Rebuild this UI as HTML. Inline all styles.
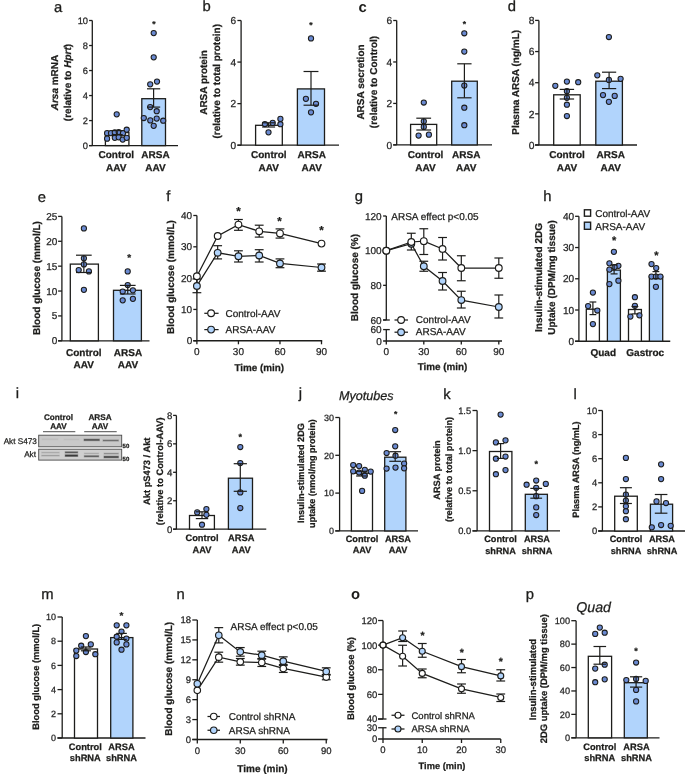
<!DOCTYPE html>
<html><head><meta charset="utf-8"><style>
html,body{margin:0;padding:0;background:#fff;}
svg{display:block;will-change:transform;}
text{font-family:"Liberation Sans",sans-serif;text-rendering:geometricPrecision;}
</style></head><body>
<svg width="685" height="774" viewBox="0 0 685 774">
<rect width="685" height="774" fill="#fff"/>
<text x="53.95" y="12" font-size="14.8" fill="#1d1d1b" stroke="#1d1d1b" stroke-width="0.3">a</text>
<line x1="92.3" y1="145.6" x2="92.3" y2="20.5" stroke="#1d1d1b" stroke-width="1.3"/>
<line x1="89.1" y1="145.6" x2="92.3" y2="145.6" stroke="#1d1d1b" stroke-width="1.3"/>
<text x="88" y="148.9" font-size="9.3" text-anchor="end" fill="#262626" stroke="#262626" stroke-width="0.25">0</text>
<line x1="89.1" y1="120.58" x2="92.3" y2="120.58" stroke="#1d1d1b" stroke-width="1.3"/>
<text x="88" y="123.88" font-size="9.3" text-anchor="end" fill="#262626" stroke="#262626" stroke-width="0.25">2</text>
<line x1="89.1" y1="95.56" x2="92.3" y2="95.56" stroke="#1d1d1b" stroke-width="1.3"/>
<text x="88" y="98.86" font-size="9.3" text-anchor="end" fill="#262626" stroke="#262626" stroke-width="0.25">4</text>
<line x1="89.1" y1="70.54" x2="92.3" y2="70.54" stroke="#1d1d1b" stroke-width="1.3"/>
<text x="88" y="73.84" font-size="9.3" text-anchor="end" fill="#262626" stroke="#262626" stroke-width="0.25">6</text>
<line x1="89.1" y1="45.52" x2="92.3" y2="45.52" stroke="#1d1d1b" stroke-width="1.3"/>
<text x="88" y="48.82" font-size="9.3" text-anchor="end" fill="#262626" stroke="#262626" stroke-width="0.25">8</text>
<line x1="89.1" y1="20.5" x2="92.3" y2="20.5" stroke="#1d1d1b" stroke-width="1.3"/>
<text x="88" y="23.8" font-size="9.3" text-anchor="end" fill="#262626" stroke="#262626" stroke-width="0.25">10</text>
<line x1="89.1" y1="145.6" x2="178" y2="145.6" stroke="#1d1d1b" stroke-width="1.3"/>
<rect x="105.4" y="132.6" width="23.5" height="13" fill="#fff" stroke="#1d1d1b" stroke-width="1.3"/>
<rect x="141.8" y="98.7" width="23.7" height="46.9" fill="#b1d4fc" stroke="#1d1d1b" stroke-width="1.3"/>
<circle cx="116.7" cy="114.3" r="2.6" fill="#6a8ad2" stroke="#1d1d1b" stroke-width="1.05"/>
<circle cx="107.1" cy="133.2" r="2.6" fill="#6a8ad2" stroke="#1d1d1b" stroke-width="1.05"/>
<circle cx="111" cy="133.2" r="2.6" fill="#6a8ad2" stroke="#1d1d1b" stroke-width="1.05"/>
<circle cx="114.8" cy="132.3" r="2.6" fill="#6a8ad2" stroke="#1d1d1b" stroke-width="1.05"/>
<circle cx="118.7" cy="132" r="2.6" fill="#6a8ad2" stroke="#1d1d1b" stroke-width="1.05"/>
<circle cx="123" cy="133.2" r="2.6" fill="#6a8ad2" stroke="#1d1d1b" stroke-width="1.05"/>
<circle cx="126.7" cy="129.7" r="2.6" fill="#6a8ad2" stroke="#1d1d1b" stroke-width="1.05"/>
<circle cx="107.1" cy="138.7" r="2.6" fill="#6a8ad2" stroke="#1d1d1b" stroke-width="1.05"/>
<circle cx="114.8" cy="137.8" r="2.6" fill="#6a8ad2" stroke="#1d1d1b" stroke-width="1.05"/>
<circle cx="118.7" cy="137.3" r="2.6" fill="#6a8ad2" stroke="#1d1d1b" stroke-width="1.05"/>
<circle cx="122.7" cy="139.6" r="2.6" fill="#6a8ad2" stroke="#1d1d1b" stroke-width="1.05"/>
<circle cx="126.7" cy="137.8" r="2.6" fill="#6a8ad2" stroke="#1d1d1b" stroke-width="1.05"/>
<circle cx="153.7" cy="33.1" r="2.6" fill="#6a8ad2" stroke="#1d1d1b" stroke-width="1.05"/>
<circle cx="153.7" cy="57.3" r="2.6" fill="#6a8ad2" stroke="#1d1d1b" stroke-width="1.05"/>
<circle cx="150.2" cy="84.3" r="2.6" fill="#6a8ad2" stroke="#1d1d1b" stroke-width="1.05"/>
<circle cx="157" cy="81.6" r="2.6" fill="#6a8ad2" stroke="#1d1d1b" stroke-width="1.05"/>
<circle cx="150.2" cy="107.1" r="2.6" fill="#6a8ad2" stroke="#1d1d1b" stroke-width="1.05"/>
<circle cx="156.7" cy="111.2" r="2.6" fill="#6a8ad2" stroke="#1d1d1b" stroke-width="1.05"/>
<circle cx="143.8" cy="118" r="2.6" fill="#6a8ad2" stroke="#1d1d1b" stroke-width="1.05"/>
<circle cx="150.3" cy="120.4" r="2.6" fill="#6a8ad2" stroke="#1d1d1b" stroke-width="1.05"/>
<circle cx="156.7" cy="118.6" r="2.6" fill="#6a8ad2" stroke="#1d1d1b" stroke-width="1.05"/>
<circle cx="163.2" cy="120.7" r="2.6" fill="#6a8ad2" stroke="#1d1d1b" stroke-width="1.05"/>
<circle cx="153.7" cy="125.8" r="2.6" fill="#6a8ad2" stroke="#1d1d1b" stroke-width="1.05"/>
<line x1="117.2" y1="130.6" x2="117.2" y2="134.6" stroke="#1d1d1b" stroke-width="1.2"/>
<line x1="111.7" y1="130.6" x2="122.7" y2="130.6" stroke="#1d1d1b" stroke-width="1.2"/>
<line x1="111.7" y1="134.6" x2="122.7" y2="134.6" stroke="#1d1d1b" stroke-width="1.2"/>
<line x1="153.6" y1="88.8" x2="153.6" y2="107.1" stroke="#1d1d1b" stroke-width="1.2"/>
<line x1="147" y1="88.8" x2="160.2" y2="88.8" stroke="#1d1d1b" stroke-width="1.2"/>
<line x1="147" y1="107.1" x2="160.2" y2="107.1" stroke="#1d1d1b" stroke-width="1.2"/>
<text x="154" y="26.69" font-size="8.5" text-anchor="middle" font-weight="bold" fill="#1d1d1b" stroke="#1d1d1b" stroke-width="0.25">*</text>
<text x="116.25" y="158.4" font-size="10" text-anchor="middle" font-weight="bold" fill="#1d1d1b" stroke="#1d1d1b" stroke-width="0.25">Control</text>
<text x="116.25" y="170.8" font-size="10" text-anchor="middle" font-weight="bold" fill="#1d1d1b" stroke="#1d1d1b" stroke-width="0.25">AAV</text>
<text x="155.5" y="158.4" font-size="10" text-anchor="middle" font-weight="bold" fill="#1d1d1b" stroke="#1d1d1b" stroke-width="0.25">ARSA</text>
<text x="155.5" y="170.8" font-size="10" text-anchor="middle" font-weight="bold" fill="#1d1d1b" stroke="#1d1d1b" stroke-width="0.25">AAV</text>
<text x="58" y="82.5" font-size="10" text-anchor="middle" font-weight="bold" fill="#1d1d1b" stroke="#1d1d1b" stroke-width="0.25" transform="rotate(-90 58 82.5)"><tspan font-style="italic">Arsa</tspan> mRNA</text>
<text x="70.5" y="82.5" font-size="10" text-anchor="middle" font-weight="bold" fill="#1d1d1b" stroke="#1d1d1b" stroke-width="0.25" transform="rotate(-90 70.5 82.5)">(relative to <tspan font-style="italic">Hprt</tspan>)</text>
<text x="202.5" y="11.3" font-size="14.8" fill="#1d1d1b" stroke="#1d1d1b" stroke-width="0.3">b</text>
<line x1="241.1" y1="145.2" x2="241.1" y2="20.5" stroke="#1d1d1b" stroke-width="1.3"/>
<line x1="237.4" y1="145.2" x2="241.1" y2="145.2" stroke="#1d1d1b" stroke-width="1.3"/>
<text x="236.1" y="148.79" font-size="10.1" text-anchor="end" fill="#262626" stroke="#262626" stroke-width="0.25">0</text>
<line x1="237.4" y1="103.63" x2="241.1" y2="103.63" stroke="#1d1d1b" stroke-width="1.3"/>
<text x="236.1" y="107.22" font-size="10.1" text-anchor="end" fill="#262626" stroke="#262626" stroke-width="0.25">2</text>
<line x1="237.4" y1="62.07" x2="241.1" y2="62.07" stroke="#1d1d1b" stroke-width="1.3"/>
<text x="236.1" y="65.65" font-size="10.1" text-anchor="end" fill="#262626" stroke="#262626" stroke-width="0.25">4</text>
<line x1="237.4" y1="20.5" x2="241.1" y2="20.5" stroke="#1d1d1b" stroke-width="1.3"/>
<text x="236.1" y="24.09" font-size="10.1" text-anchor="end" fill="#262626" stroke="#262626" stroke-width="0.25">6</text>
<line x1="237.4" y1="145.2" x2="339" y2="145.2" stroke="#1d1d1b" stroke-width="1.3"/>
<rect x="255.6" y="125.3" width="26.7" height="19.9" fill="#fff" stroke="#1d1d1b" stroke-width="1.3"/>
<rect x="297.4" y="88.9" width="27.1" height="56.3" fill="#b1d4fc" stroke="#1d1d1b" stroke-width="1.3"/>
<circle cx="264.9" cy="124" r="2.6" fill="#6a8ad2" stroke="#1d1d1b" stroke-width="1.05"/>
<circle cx="272.7" cy="122.9" r="2.6" fill="#6a8ad2" stroke="#1d1d1b" stroke-width="1.05"/>
<circle cx="280.4" cy="118.9" r="2.6" fill="#6a8ad2" stroke="#1d1d1b" stroke-width="1.05"/>
<circle cx="280.4" cy="124.2" r="2.6" fill="#6a8ad2" stroke="#1d1d1b" stroke-width="1.05"/>
<circle cx="268.5" cy="132.3" r="2.6" fill="#6a8ad2" stroke="#1d1d1b" stroke-width="1.05"/>
<circle cx="311" cy="38.4" r="2.6" fill="#6a8ad2" stroke="#1d1d1b" stroke-width="1.05"/>
<circle cx="305.9" cy="98.8" r="2.6" fill="#6a8ad2" stroke="#1d1d1b" stroke-width="1.05"/>
<circle cx="316" cy="103.8" r="2.6" fill="#6a8ad2" stroke="#1d1d1b" stroke-width="1.05"/>
<circle cx="311" cy="112.3" r="2.6" fill="#6a8ad2" stroke="#1d1d1b" stroke-width="1.05"/>
<line x1="268.6" y1="122.8" x2="268.6" y2="127" stroke="#1d1d1b" stroke-width="1.2"/>
<line x1="262.1" y1="122.8" x2="275.1" y2="122.8" stroke="#1d1d1b" stroke-width="1.2"/>
<line x1="262.1" y1="127" x2="275.1" y2="127" stroke="#1d1d1b" stroke-width="1.2"/>
<line x1="311" y1="71.5" x2="311" y2="105.2" stroke="#1d1d1b" stroke-width="1.2"/>
<line x1="303.55" y1="71.5" x2="318.45" y2="71.5" stroke="#1d1d1b" stroke-width="1.2"/>
<line x1="303.55" y1="105.2" x2="318.45" y2="105.2" stroke="#1d1d1b" stroke-width="1.2"/>
<text x="311" y="27.79" font-size="8.5" text-anchor="middle" font-weight="bold" fill="#1d1d1b" stroke="#1d1d1b" stroke-width="0.25">*</text>
<text x="268.75" y="158.4" font-size="10" text-anchor="middle" font-weight="bold" fill="#1d1d1b" stroke="#1d1d1b" stroke-width="0.25">Control</text>
<text x="268.75" y="170.8" font-size="10" text-anchor="middle" font-weight="bold" fill="#1d1d1b" stroke="#1d1d1b" stroke-width="0.25">AAV</text>
<text x="311.75" y="158.4" font-size="10" text-anchor="middle" font-weight="bold" fill="#1d1d1b" stroke="#1d1d1b" stroke-width="0.25">ARSA</text>
<text x="311.75" y="170.8" font-size="10" text-anchor="middle" font-weight="bold" fill="#1d1d1b" stroke="#1d1d1b" stroke-width="0.25">AAV</text>
<text x="207.2" y="82.5" font-size="10" text-anchor="middle" font-weight="bold" fill="#1d1d1b" stroke="#1d1d1b" stroke-width="0.25" transform="rotate(-90 207.2 82.5)">ARSA protein</text>
<text x="219.9" y="81.25" font-size="10" text-anchor="middle" font-weight="bold" fill="#1d1d1b" stroke="#1d1d1b" stroke-width="0.25" transform="rotate(-90 219.9 81.25)">(relative to total protein)</text>
<text x="358.6" y="12" font-size="14.8" font-weight="bold" fill="#1d1d1b" stroke-width="0">c</text>
<line x1="396.7" y1="144.9" x2="396.7" y2="20.5" stroke="#1d1d1b" stroke-width="1.3"/>
<line x1="393.2" y1="144.9" x2="396.7" y2="144.9" stroke="#1d1d1b" stroke-width="1.3"/>
<text x="392.1" y="148.52" font-size="10.2" text-anchor="end" fill="#262626" stroke="#262626" stroke-width="0.25">0</text>
<line x1="393.2" y1="103.43" x2="396.7" y2="103.43" stroke="#1d1d1b" stroke-width="1.3"/>
<text x="392.1" y="107.05" font-size="10.2" text-anchor="end" fill="#262626" stroke="#262626" stroke-width="0.25">2</text>
<line x1="393.2" y1="61.97" x2="396.7" y2="61.97" stroke="#1d1d1b" stroke-width="1.3"/>
<text x="392.1" y="65.59" font-size="10.2" text-anchor="end" fill="#262626" stroke="#262626" stroke-width="0.25">4</text>
<line x1="393.2" y1="20.5" x2="396.7" y2="20.5" stroke="#1d1d1b" stroke-width="1.3"/>
<text x="392.1" y="24.12" font-size="10.2" text-anchor="end" fill="#262626" stroke="#262626" stroke-width="0.25">6</text>
<line x1="393.2" y1="144.9" x2="492" y2="144.9" stroke="#1d1d1b" stroke-width="1.3"/>
<rect x="410.6" y="124.4" width="26.1" height="20.5" fill="#fff" stroke="#1d1d1b" stroke-width="1.3"/>
<rect x="451.7" y="81.2" width="25.6" height="63.7" fill="#b1d4fc" stroke="#1d1d1b" stroke-width="1.3"/>
<circle cx="423.8" cy="102.5" r="2.6" fill="#6a8ad2" stroke="#1d1d1b" stroke-width="1.05"/>
<circle cx="423.8" cy="121.3" r="2.6" fill="#6a8ad2" stroke="#1d1d1b" stroke-width="1.05"/>
<circle cx="423.8" cy="126.9" r="2.6" fill="#6a8ad2" stroke="#1d1d1b" stroke-width="1.05"/>
<circle cx="418.6" cy="135.6" r="2.6" fill="#6a8ad2" stroke="#1d1d1b" stroke-width="1.05"/>
<circle cx="428.9" cy="134.7" r="2.6" fill="#6a8ad2" stroke="#1d1d1b" stroke-width="1.05"/>
<circle cx="464.3" cy="33.3" r="2.6" fill="#6a8ad2" stroke="#1d1d1b" stroke-width="1.05"/>
<circle cx="464.3" cy="51.6" r="2.6" fill="#6a8ad2" stroke="#1d1d1b" stroke-width="1.05"/>
<circle cx="464.3" cy="85.6" r="2.6" fill="#6a8ad2" stroke="#1d1d1b" stroke-width="1.05"/>
<circle cx="464.3" cy="107.7" r="2.6" fill="#6a8ad2" stroke="#1d1d1b" stroke-width="1.05"/>
<circle cx="464.3" cy="125.2" r="2.6" fill="#6a8ad2" stroke="#1d1d1b" stroke-width="1.05"/>
<line x1="423.7" y1="118.2" x2="423.7" y2="130" stroke="#1d1d1b" stroke-width="1.2"/>
<line x1="416.3" y1="118.2" x2="431.1" y2="118.2" stroke="#1d1d1b" stroke-width="1.2"/>
<line x1="416.3" y1="130" x2="431.1" y2="130" stroke="#1d1d1b" stroke-width="1.2"/>
<line x1="464.4" y1="63.8" x2="464.4" y2="97.8" stroke="#1d1d1b" stroke-width="1.2"/>
<line x1="457.25" y1="63.8" x2="471.55" y2="63.8" stroke="#1d1d1b" stroke-width="1.2"/>
<line x1="457.25" y1="97.8" x2="471.55" y2="97.8" stroke="#1d1d1b" stroke-width="1.2"/>
<text x="464.3" y="26.59" font-size="8.5" text-anchor="middle" font-weight="bold" fill="#1d1d1b" stroke="#1d1d1b" stroke-width="0.25">*</text>
<text x="425.5" y="158.4" font-size="10" text-anchor="middle" font-weight="bold" fill="#1d1d1b" stroke="#1d1d1b" stroke-width="0.25">Control</text>
<text x="425.5" y="170.8" font-size="10" text-anchor="middle" font-weight="bold" fill="#1d1d1b" stroke="#1d1d1b" stroke-width="0.25">AAV</text>
<text x="466.25" y="158.4" font-size="10" text-anchor="middle" font-weight="bold" fill="#1d1d1b" stroke="#1d1d1b" stroke-width="0.25">ARSA</text>
<text x="466.25" y="170.8" font-size="10" text-anchor="middle" font-weight="bold" fill="#1d1d1b" stroke="#1d1d1b" stroke-width="0.25">AAV</text>
<text x="363.5" y="82" font-size="10" text-anchor="middle" font-weight="bold" fill="#1d1d1b" stroke="#1d1d1b" stroke-width="0.25" transform="rotate(-90 363.5 82)">ARSA secretion</text>
<text x="376.75" y="82" font-size="10" text-anchor="middle" font-weight="bold" fill="#1d1d1b" stroke="#1d1d1b" stroke-width="0.25" transform="rotate(-90 376.75 82)">(relative to Control)</text>
<text x="507.8" y="11.3" font-size="14.8" fill="#1d1d1b" stroke="#1d1d1b" stroke-width="0.3">d</text>
<line x1="538.9" y1="145" x2="538.9" y2="20.4" stroke="#1d1d1b" stroke-width="1.3"/>
<line x1="535.1" y1="145" x2="538.9" y2="145" stroke="#1d1d1b" stroke-width="1.3"/>
<text x="534.4" y="148.66" font-size="10.3" text-anchor="end" fill="#262626" stroke="#262626" stroke-width="0.25">0</text>
<line x1="535.1" y1="113.85" x2="538.9" y2="113.85" stroke="#1d1d1b" stroke-width="1.3"/>
<text x="534.4" y="117.51" font-size="10.3" text-anchor="end" fill="#262626" stroke="#262626" stroke-width="0.25">2</text>
<line x1="535.1" y1="82.7" x2="538.9" y2="82.7" stroke="#1d1d1b" stroke-width="1.3"/>
<text x="534.4" y="86.36" font-size="10.3" text-anchor="end" fill="#262626" stroke="#262626" stroke-width="0.25">4</text>
<line x1="535.1" y1="51.55" x2="538.9" y2="51.55" stroke="#1d1d1b" stroke-width="1.3"/>
<text x="534.4" y="55.21" font-size="10.3" text-anchor="end" fill="#262626" stroke="#262626" stroke-width="0.25">6</text>
<line x1="535.1" y1="20.4" x2="538.9" y2="20.4" stroke="#1d1d1b" stroke-width="1.3"/>
<text x="534.4" y="24.06" font-size="10.3" text-anchor="end" fill="#262626" stroke="#262626" stroke-width="0.25">8</text>
<line x1="535.1" y1="145" x2="637" y2="145" stroke="#1d1d1b" stroke-width="1.3"/>
<rect x="553.7" y="94.8" width="26.5" height="50.2" fill="#fff" stroke="#1d1d1b" stroke-width="1.3"/>
<rect x="595.8" y="81.2" width="26.6" height="63.8" fill="#b1d4fc" stroke="#1d1d1b" stroke-width="1.3"/>
<circle cx="555.3" cy="85.8" r="2.6" fill="#6a8ad2" stroke="#1d1d1b" stroke-width="1.05"/>
<circle cx="566.9" cy="81.6" r="2.6" fill="#6a8ad2" stroke="#1d1d1b" stroke-width="1.05"/>
<circle cx="578.2" cy="82.2" r="2.6" fill="#6a8ad2" stroke="#1d1d1b" stroke-width="1.05"/>
<circle cx="566.9" cy="91.2" r="2.6" fill="#6a8ad2" stroke="#1d1d1b" stroke-width="1.05"/>
<circle cx="566.9" cy="97.8" r="2.6" fill="#6a8ad2" stroke="#1d1d1b" stroke-width="1.05"/>
<circle cx="566.9" cy="104.7" r="2.6" fill="#6a8ad2" stroke="#1d1d1b" stroke-width="1.05"/>
<circle cx="566.9" cy="116" r="2.6" fill="#6a8ad2" stroke="#1d1d1b" stroke-width="1.05"/>
<circle cx="608.9" cy="37" r="2.6" fill="#6a8ad2" stroke="#1d1d1b" stroke-width="1.05"/>
<circle cx="597.3" cy="75.3" r="2.6" fill="#6a8ad2" stroke="#1d1d1b" stroke-width="1.05"/>
<circle cx="608.9" cy="79.9" r="2.6" fill="#6a8ad2" stroke="#1d1d1b" stroke-width="1.05"/>
<circle cx="620.6" cy="78.8" r="2.6" fill="#6a8ad2" stroke="#1d1d1b" stroke-width="1.05"/>
<circle cx="603" cy="95.1" r="2.6" fill="#6a8ad2" stroke="#1d1d1b" stroke-width="1.05"/>
<circle cx="614.7" cy="95.9" r="2.6" fill="#6a8ad2" stroke="#1d1d1b" stroke-width="1.05"/>
<circle cx="608.9" cy="101.8" r="2.6" fill="#6a8ad2" stroke="#1d1d1b" stroke-width="1.05"/>
<line x1="566.9" y1="89.4" x2="566.9" y2="99" stroke="#1d1d1b" stroke-width="1.2"/>
<line x1="559.7" y1="89.4" x2="574.1" y2="89.4" stroke="#1d1d1b" stroke-width="1.2"/>
<line x1="559.7" y1="99" x2="574.1" y2="99" stroke="#1d1d1b" stroke-width="1.2"/>
<line x1="609.1" y1="72.2" x2="609.1" y2="88.6" stroke="#1d1d1b" stroke-width="1.2"/>
<line x1="602" y1="72.2" x2="616.2" y2="72.2" stroke="#1d1d1b" stroke-width="1.2"/>
<line x1="602" y1="88.6" x2="616.2" y2="88.6" stroke="#1d1d1b" stroke-width="1.2"/>
<text x="567" y="158.4" font-size="10" text-anchor="middle" font-weight="bold" fill="#1d1d1b" stroke="#1d1d1b" stroke-width="0.25">Control</text>
<text x="567" y="170.8" font-size="10" text-anchor="middle" font-weight="bold" fill="#1d1d1b" stroke="#1d1d1b" stroke-width="0.25">AAV</text>
<text x="610.75" y="158.4" font-size="10" text-anchor="middle" font-weight="bold" fill="#1d1d1b" stroke="#1d1d1b" stroke-width="0.25">ARSA</text>
<text x="610.75" y="170.8" font-size="10" text-anchor="middle" font-weight="bold" fill="#1d1d1b" stroke="#1d1d1b" stroke-width="0.25">AAV</text>
<text x="518.5" y="82.25" font-size="10" text-anchor="middle" font-weight="bold" fill="#1d1d1b" stroke="#1d1d1b" stroke-width="0.25" transform="rotate(-90 518.5 82.25)">Plasma ARSA (ng/mL)</text>
<text x="37.65" y="202.4" font-size="14.8" fill="#1d1d1b" stroke="#1d1d1b" stroke-width="0.3">e</text>
<line x1="61.9" y1="340.8" x2="61.9" y2="216.4" stroke="#1d1d1b" stroke-width="1.3"/>
<line x1="58.1" y1="340.8" x2="61.9" y2="340.8" stroke="#1d1d1b" stroke-width="1.3"/>
<text x="57.3" y="344.35" font-size="10" text-anchor="end" fill="#262626" stroke="#262626" stroke-width="0.25">0</text>
<line x1="58.1" y1="315.92" x2="61.9" y2="315.92" stroke="#1d1d1b" stroke-width="1.3"/>
<text x="57.3" y="319.47" font-size="10" text-anchor="end" fill="#262626" stroke="#262626" stroke-width="0.25">5</text>
<line x1="58.1" y1="291.04" x2="61.9" y2="291.04" stroke="#1d1d1b" stroke-width="1.3"/>
<text x="57.3" y="294.59" font-size="10" text-anchor="end" fill="#262626" stroke="#262626" stroke-width="0.25">10</text>
<line x1="58.1" y1="266.16" x2="61.9" y2="266.16" stroke="#1d1d1b" stroke-width="1.3"/>
<text x="57.3" y="269.71" font-size="10" text-anchor="end" fill="#262626" stroke="#262626" stroke-width="0.25">15</text>
<line x1="58.1" y1="241.28" x2="61.9" y2="241.28" stroke="#1d1d1b" stroke-width="1.3"/>
<text x="57.3" y="244.83" font-size="10" text-anchor="end" fill="#262626" stroke="#262626" stroke-width="0.25">20</text>
<line x1="58.1" y1="216.4" x2="61.9" y2="216.4" stroke="#1d1d1b" stroke-width="1.3"/>
<text x="57.3" y="219.95" font-size="10" text-anchor="end" fill="#262626" stroke="#262626" stroke-width="0.25">25</text>
<line x1="58.1" y1="340.8" x2="149.5" y2="340.8" stroke="#1d1d1b" stroke-width="1.3"/>
<rect x="70.3" y="264.1" width="28.1" height="76.7" fill="#fff" stroke="#1d1d1b" stroke-width="1.3"/>
<rect x="113.5" y="290.3" width="27.9" height="50.5" fill="#b1d4fc" stroke="#1d1d1b" stroke-width="1.3"/>
<circle cx="83.9" cy="228.4" r="2.6" fill="#6a8ad2" stroke="#1d1d1b" stroke-width="1.05"/>
<circle cx="83.9" cy="258.3" r="2.6" fill="#6a8ad2" stroke="#1d1d1b" stroke-width="1.05"/>
<circle cx="83.9" cy="264.4" r="2.6" fill="#6a8ad2" stroke="#1d1d1b" stroke-width="1.05"/>
<circle cx="78.7" cy="270.1" r="2.6" fill="#6a8ad2" stroke="#1d1d1b" stroke-width="1.05"/>
<circle cx="88.9" cy="271.4" r="2.6" fill="#6a8ad2" stroke="#1d1d1b" stroke-width="1.05"/>
<circle cx="83.9" cy="289.8" r="2.6" fill="#6a8ad2" stroke="#1d1d1b" stroke-width="1.05"/>
<circle cx="127.7" cy="271.4" r="2.6" fill="#6a8ad2" stroke="#1d1d1b" stroke-width="1.05"/>
<circle cx="127.7" cy="285.1" r="2.6" fill="#6a8ad2" stroke="#1d1d1b" stroke-width="1.05"/>
<circle cx="122.7" cy="291.6" r="2.6" fill="#6a8ad2" stroke="#1d1d1b" stroke-width="1.05"/>
<circle cx="132.9" cy="290.3" r="2.6" fill="#6a8ad2" stroke="#1d1d1b" stroke-width="1.05"/>
<circle cx="122.7" cy="300.3" r="2.6" fill="#6a8ad2" stroke="#1d1d1b" stroke-width="1.05"/>
<circle cx="132.9" cy="298.8" r="2.6" fill="#6a8ad2" stroke="#1d1d1b" stroke-width="1.05"/>
<line x1="83.85" y1="255.2" x2="83.85" y2="272.5" stroke="#1d1d1b" stroke-width="1.2"/>
<line x1="76" y1="255.2" x2="91.7" y2="255.2" stroke="#1d1d1b" stroke-width="1.2"/>
<line x1="76" y1="272.5" x2="91.7" y2="272.5" stroke="#1d1d1b" stroke-width="1.2"/>
<line x1="127.75" y1="285.4" x2="127.75" y2="294" stroke="#1d1d1b" stroke-width="1.2"/>
<line x1="119.9" y1="285.4" x2="135.6" y2="285.4" stroke="#1d1d1b" stroke-width="1.2"/>
<line x1="119.9" y1="294" x2="135.6" y2="294" stroke="#1d1d1b" stroke-width="1.2"/>
<text x="129.3" y="260.95" font-size="10" text-anchor="middle" font-weight="bold" fill="#1d1d1b" stroke="#1d1d1b" stroke-width="0.25">*</text>
<text x="83.75" y="355.5" font-size="10" text-anchor="middle" font-weight="bold" fill="#1d1d1b" stroke="#1d1d1b" stroke-width="0.25">Control</text>
<text x="83.75" y="368.1" font-size="10" text-anchor="middle" font-weight="bold" fill="#1d1d1b" stroke="#1d1d1b" stroke-width="0.25">AAV</text>
<text x="128" y="355.5" font-size="10" text-anchor="middle" font-weight="bold" fill="#1d1d1b" stroke="#1d1d1b" stroke-width="0.25">ARSA</text>
<text x="128" y="368.1" font-size="10" text-anchor="middle" font-weight="bold" fill="#1d1d1b" stroke="#1d1d1b" stroke-width="0.25">AAV</text>
<text x="40" y="278" font-size="10" text-anchor="middle" font-weight="bold" fill="#1d1d1b" stroke="#1d1d1b" stroke-width="0.25" transform="rotate(-90 40 278)">Blood glucose (mmol/L)</text>
<text x="166.3" y="200.7" font-size="14.8" fill="#1d1d1b" stroke="#1d1d1b" stroke-width="0.3">f</text>
<line x1="196.9" y1="340.75" x2="196.9" y2="215.5" stroke="#1d1d1b" stroke-width="1.3"/>
<line x1="193.3" y1="340.75" x2="196.9" y2="340.75" stroke="#1d1d1b" stroke-width="1.3"/>
<text x="192.2" y="344.3" font-size="10" text-anchor="end" fill="#262626" stroke="#262626" stroke-width="0.25">0</text>
<line x1="193.3" y1="309.44" x2="196.9" y2="309.44" stroke="#1d1d1b" stroke-width="1.3"/>
<text x="192.2" y="312.99" font-size="10" text-anchor="end" fill="#262626" stroke="#262626" stroke-width="0.25">10</text>
<line x1="193.3" y1="278.12" x2="196.9" y2="278.12" stroke="#1d1d1b" stroke-width="1.3"/>
<text x="192.2" y="281.68" font-size="10" text-anchor="end" fill="#262626" stroke="#262626" stroke-width="0.25">20</text>
<line x1="193.3" y1="246.81" x2="196.9" y2="246.81" stroke="#1d1d1b" stroke-width="1.3"/>
<text x="192.2" y="250.36" font-size="10" text-anchor="end" fill="#262626" stroke="#262626" stroke-width="0.25">30</text>
<line x1="193.3" y1="215.5" x2="196.9" y2="215.5" stroke="#1d1d1b" stroke-width="1.3"/>
<text x="192.2" y="219.05" font-size="10" text-anchor="end" fill="#262626" stroke="#262626" stroke-width="0.25">40</text>
<line x1="193.3" y1="340.75" x2="322.2" y2="340.75" stroke="#1d1d1b" stroke-width="1.3"/>
<line x1="196.9" y1="340.75" x2="196.9" y2="344.3" stroke="#1d1d1b" stroke-width="1.3"/>
<text x="196.9" y="354.6" font-size="10" text-anchor="middle" fill="#262626" stroke="#262626" stroke-width="0.25">0</text>
<line x1="238.43" y1="340.75" x2="238.43" y2="344.3" stroke="#1d1d1b" stroke-width="1.3"/>
<text x="238.43" y="354.6" font-size="10" text-anchor="middle" fill="#262626" stroke="#262626" stroke-width="0.25">30</text>
<line x1="279.97" y1="340.75" x2="279.97" y2="344.3" stroke="#1d1d1b" stroke-width="1.3"/>
<text x="279.97" y="354.6" font-size="10" text-anchor="middle" fill="#262626" stroke="#262626" stroke-width="0.25">60</text>
<line x1="321.5" y1="340.75" x2="321.5" y2="344.3" stroke="#1d1d1b" stroke-width="1.3"/>
<text x="321.5" y="354.6" font-size="10" text-anchor="middle" fill="#262626" stroke="#262626" stroke-width="0.25">90</text>
<text x="259.25" y="371" font-size="9.9" text-anchor="middle" font-weight="bold" fill="#1d1d1b" stroke="#1d1d1b" stroke-width="0.25">Time (min)</text>
<text x="174.25" y="277" font-size="10" text-anchor="middle" font-weight="bold" fill="#1d1d1b" stroke="#1d1d1b" stroke-width="0.25" transform="rotate(-90 174.25 277)">Blood glucose (mmol/L)</text>
<polyline points="196.9,276.3 217.67,236 238.43,224.6 259.2,231.3 279.97,233.4 321.5,243.6" fill="none" stroke="#1d1d1b" stroke-width="1.25"/>
<polyline points="196.9,285.9 217.67,252.8 238.43,256.3 259.2,255.5 279.97,263.4 321.5,267.5" fill="none" stroke="#1d1d1b" stroke-width="1.25"/>
<line x1="238.43" y1="219.5" x2="238.43" y2="230.3" stroke="#1d1d1b" stroke-width="1.2"/>
<line x1="234.03" y1="219.5" x2="242.83" y2="219.5" stroke="#1d1d1b" stroke-width="1.2"/>
<line x1="234.03" y1="230.3" x2="242.83" y2="230.3" stroke="#1d1d1b" stroke-width="1.2"/>
<line x1="259.2" y1="225.2" x2="259.2" y2="237.1" stroke="#1d1d1b" stroke-width="1.2"/>
<line x1="254.8" y1="225.2" x2="263.6" y2="225.2" stroke="#1d1d1b" stroke-width="1.2"/>
<line x1="254.8" y1="237.1" x2="263.6" y2="237.1" stroke="#1d1d1b" stroke-width="1.2"/>
<line x1="279.97" y1="228.9" x2="279.97" y2="238.1" stroke="#1d1d1b" stroke-width="1.2"/>
<line x1="275.57" y1="228.9" x2="284.37" y2="228.9" stroke="#1d1d1b" stroke-width="1.2"/>
<line x1="275.57" y1="238.1" x2="284.37" y2="238.1" stroke="#1d1d1b" stroke-width="1.2"/>
<line x1="217.67" y1="245.7" x2="217.67" y2="258.9" stroke="#1d1d1b" stroke-width="1.2"/>
<line x1="213.27" y1="245.7" x2="222.07" y2="245.7" stroke="#1d1d1b" stroke-width="1.2"/>
<line x1="213.27" y1="258.9" x2="222.07" y2="258.9" stroke="#1d1d1b" stroke-width="1.2"/>
<line x1="238.43" y1="250.8" x2="238.43" y2="262" stroke="#1d1d1b" stroke-width="1.2"/>
<line x1="234.03" y1="250.8" x2="242.83" y2="250.8" stroke="#1d1d1b" stroke-width="1.2"/>
<line x1="234.03" y1="262" x2="242.83" y2="262" stroke="#1d1d1b" stroke-width="1.2"/>
<line x1="259.2" y1="249.7" x2="259.2" y2="262" stroke="#1d1d1b" stroke-width="1.2"/>
<line x1="254.8" y1="249.7" x2="263.6" y2="249.7" stroke="#1d1d1b" stroke-width="1.2"/>
<line x1="254.8" y1="262" x2="263.6" y2="262" stroke="#1d1d1b" stroke-width="1.2"/>
<line x1="279.97" y1="258.9" x2="279.97" y2="267.7" stroke="#1d1d1b" stroke-width="1.2"/>
<line x1="275.57" y1="258.9" x2="284.37" y2="258.9" stroke="#1d1d1b" stroke-width="1.2"/>
<line x1="275.57" y1="267.7" x2="284.37" y2="267.7" stroke="#1d1d1b" stroke-width="1.2"/>
<line x1="321.5" y1="264" x2="321.5" y2="271.2" stroke="#1d1d1b" stroke-width="1.2"/>
<line x1="317.1" y1="264" x2="325.9" y2="264" stroke="#1d1d1b" stroke-width="1.2"/>
<line x1="317.1" y1="271.2" x2="325.9" y2="271.2" stroke="#1d1d1b" stroke-width="1.2"/>
<line x1="196.9" y1="279" x2="196.9" y2="292.7" stroke="#1d1d1b" stroke-width="1.2"/>
<line x1="192.5" y1="279" x2="201.3" y2="279" stroke="#1d1d1b" stroke-width="1.2"/>
<line x1="192.5" y1="292.7" x2="201.3" y2="292.7" stroke="#1d1d1b" stroke-width="1.2"/>
<circle cx="196.9" cy="276.3" r="3.35" fill="#fff" stroke="#1d1d1b" stroke-width="1.15"/>
<circle cx="217.67" cy="236" r="3.35" fill="#fff" stroke="#1d1d1b" stroke-width="1.15"/>
<circle cx="238.43" cy="224.6" r="3.35" fill="#fff" stroke="#1d1d1b" stroke-width="1.15"/>
<circle cx="259.2" cy="231.3" r="3.35" fill="#fff" stroke="#1d1d1b" stroke-width="1.15"/>
<circle cx="279.97" cy="233.4" r="3.35" fill="#fff" stroke="#1d1d1b" stroke-width="1.15"/>
<circle cx="321.5" cy="243.6" r="3.35" fill="#fff" stroke="#1d1d1b" stroke-width="1.15"/>
<circle cx="196.9" cy="285.9" r="3.35" fill="#b1d4fc" stroke="#1d1d1b" stroke-width="1.15"/>
<circle cx="217.67" cy="252.8" r="3.35" fill="#b1d4fc" stroke="#1d1d1b" stroke-width="1.15"/>
<circle cx="238.43" cy="256.3" r="3.35" fill="#b1d4fc" stroke="#1d1d1b" stroke-width="1.15"/>
<circle cx="259.2" cy="255.5" r="3.35" fill="#b1d4fc" stroke="#1d1d1b" stroke-width="1.15"/>
<circle cx="279.97" cy="263.4" r="3.35" fill="#b1d4fc" stroke="#1d1d1b" stroke-width="1.15"/>
<circle cx="321.5" cy="267.5" r="3.35" fill="#b1d4fc" stroke="#1d1d1b" stroke-width="1.15"/>
<text x="238.5" y="215.41" font-size="11.5" text-anchor="middle" font-weight="bold" fill="#1d1d1b" stroke="#1d1d1b" stroke-width="0.25">*</text>
<text x="279.5" y="224.51" font-size="11.5" text-anchor="middle" font-weight="bold" fill="#1d1d1b" stroke="#1d1d1b" stroke-width="0.25">*</text>
<text x="321.4" y="234.11" font-size="11.5" text-anchor="middle" font-weight="bold" fill="#1d1d1b" stroke="#1d1d1b" stroke-width="0.25">*</text>
<line x1="204.3" y1="313.3" x2="218.6" y2="313.3" stroke="#1d1d1b" stroke-width="1.25"/>
<circle cx="211.1" cy="313.3" r="3.35" fill="#fff" stroke="#1d1d1b" stroke-width="1.15"/>
<line x1="204.3" y1="329.6" x2="218.6" y2="329.6" stroke="#1d1d1b" stroke-width="1.25"/>
<circle cx="211.1" cy="329.6" r="3.35" fill="#b1d4fc" stroke="#1d1d1b" stroke-width="1.15"/>
<text x="225.5" y="316.8" font-size="10" fill="#1d1d1b" stroke="#1d1d1b" stroke-width="0.25">Control-AAV</text>
<text x="225.5" y="333" font-size="10" fill="#1d1d1b" stroke="#1d1d1b" stroke-width="0.25">ARSA-AAV</text>
<text x="354.7" y="200.8" font-size="14.8" fill="#1d1d1b" stroke="#1d1d1b" stroke-width="0.3">g</text>
<line x1="386.3" y1="216" x2="386.3" y2="320" stroke="#1d1d1b" stroke-width="1.3"/>
<line x1="383.1" y1="320" x2="389.8" y2="320" stroke="#1d1d1b" stroke-width="1.3"/>
<line x1="383.1" y1="320" x2="386.3" y2="320" stroke="#1d1d1b" stroke-width="1.3"/>
<text x="381.7" y="323.55" font-size="10" text-anchor="end" fill="#262626" stroke="#262626" stroke-width="0.25">60</text>
<line x1="383.1" y1="285.33" x2="386.3" y2="285.33" stroke="#1d1d1b" stroke-width="1.3"/>
<text x="381.7" y="288.88" font-size="10" text-anchor="end" fill="#262626" stroke="#262626" stroke-width="0.25">80</text>
<line x1="383.1" y1="250.67" x2="386.3" y2="250.67" stroke="#1d1d1b" stroke-width="1.3"/>
<text x="381.7" y="254.22" font-size="10" text-anchor="end" fill="#262626" stroke="#262626" stroke-width="0.25">100</text>
<line x1="383.1" y1="216" x2="386.3" y2="216" stroke="#1d1d1b" stroke-width="1.3"/>
<text x="381.7" y="219.55" font-size="10" text-anchor="end" fill="#262626" stroke="#262626" stroke-width="0.25">120</text>
<line x1="386.3" y1="329.6" x2="386.3" y2="341" stroke="#1d1d1b" stroke-width="1.3"/>
<line x1="383.1" y1="329.6" x2="389.8" y2="329.6" stroke="#1d1d1b" stroke-width="1.3"/>
<text x="381.7" y="333.15" font-size="10" text-anchor="end" fill="#262626" stroke="#262626" stroke-width="0.25">60</text>
<text x="381.7" y="344.55" font-size="10" text-anchor="end" fill="#262626" stroke="#262626" stroke-width="0.25">0</text>
<line x1="383.1" y1="341" x2="502" y2="341" stroke="#1d1d1b" stroke-width="1.3"/>
<line x1="386.3" y1="341" x2="386.3" y2="344.6" stroke="#1d1d1b" stroke-width="1.3"/>
<text x="386.3" y="355" font-size="10" text-anchor="middle" fill="#262626" stroke="#262626" stroke-width="0.25">0</text>
<line x1="423.8" y1="341" x2="423.8" y2="344.6" stroke="#1d1d1b" stroke-width="1.3"/>
<text x="423.8" y="355" font-size="10" text-anchor="middle" fill="#262626" stroke="#262626" stroke-width="0.25">30</text>
<line x1="461.3" y1="341" x2="461.3" y2="344.6" stroke="#1d1d1b" stroke-width="1.3"/>
<text x="461.3" y="355" font-size="10" text-anchor="middle" fill="#262626" stroke="#262626" stroke-width="0.25">60</text>
<line x1="498.8" y1="341" x2="498.8" y2="344.6" stroke="#1d1d1b" stroke-width="1.3"/>
<text x="498.8" y="355" font-size="10" text-anchor="middle" fill="#262626" stroke="#262626" stroke-width="0.25">90</text>
<text x="442.5" y="370" font-size="9.9" text-anchor="middle" font-weight="bold" fill="#1d1d1b" stroke="#1d1d1b" stroke-width="0.25">Time (min)</text>
<text x="358" y="277.5" font-size="10" text-anchor="middle" font-weight="bold" fill="#1d1d1b" stroke="#1d1d1b" stroke-width="0.25" transform="rotate(-90 358 277.5)">Blood glucose (%)</text>
<text x="391.25" y="220.2" font-size="10" fill="#1d1d1b" stroke="#1d1d1b" stroke-width="0.25">ARSA effect p&lt;0.05</text>
<polyline points="386.3,250.67 411.3,243.73 423.8,266.27 442.55,281 461.3,300.07 498.8,307" fill="none" stroke="#1d1d1b" stroke-width="1.25"/>
<polyline points="386.3,250.67 411.3,242 423.8,241.13 442.55,248.93 461.3,268 498.8,268" fill="none" stroke="#1d1d1b" stroke-width="1.25"/>
<line x1="411.3" y1="233.25" x2="411.3" y2="250" stroke="#1d1d1b" stroke-width="1.2"/>
<line x1="406.9" y1="233.25" x2="415.7" y2="233.25" stroke="#1d1d1b" stroke-width="1.2"/>
<line x1="406.9" y1="250" x2="415.7" y2="250" stroke="#1d1d1b" stroke-width="1.2"/>
<line x1="423.8" y1="228.75" x2="423.8" y2="254.5" stroke="#1d1d1b" stroke-width="1.2"/>
<line x1="419.4" y1="228.75" x2="428.2" y2="228.75" stroke="#1d1d1b" stroke-width="1.2"/>
<line x1="419.4" y1="254.5" x2="428.2" y2="254.5" stroke="#1d1d1b" stroke-width="1.2"/>
<line x1="442.55" y1="237.5" x2="442.55" y2="260" stroke="#1d1d1b" stroke-width="1.2"/>
<line x1="438.15" y1="237.5" x2="446.95" y2="237.5" stroke="#1d1d1b" stroke-width="1.2"/>
<line x1="438.15" y1="260" x2="446.95" y2="260" stroke="#1d1d1b" stroke-width="1.2"/>
<line x1="461.3" y1="255.75" x2="461.3" y2="280.75" stroke="#1d1d1b" stroke-width="1.2"/>
<line x1="456.9" y1="255.75" x2="465.7" y2="255.75" stroke="#1d1d1b" stroke-width="1.2"/>
<line x1="456.9" y1="280.75" x2="465.7" y2="280.75" stroke="#1d1d1b" stroke-width="1.2"/>
<line x1="498.8" y1="258" x2="498.8" y2="278.25" stroke="#1d1d1b" stroke-width="1.2"/>
<line x1="494.4" y1="258" x2="503.2" y2="258" stroke="#1d1d1b" stroke-width="1.2"/>
<line x1="494.4" y1="278.25" x2="503.2" y2="278.25" stroke="#1d1d1b" stroke-width="1.2"/>
<line x1="423.8" y1="261.25" x2="423.8" y2="271.25" stroke="#1d1d1b" stroke-width="1.2"/>
<line x1="419.4" y1="261.25" x2="428.2" y2="261.25" stroke="#1d1d1b" stroke-width="1.2"/>
<line x1="419.4" y1="271.25" x2="428.2" y2="271.25" stroke="#1d1d1b" stroke-width="1.2"/>
<line x1="442.55" y1="272.5" x2="442.55" y2="290" stroke="#1d1d1b" stroke-width="1.2"/>
<line x1="438.15" y1="272.5" x2="446.95" y2="272.5" stroke="#1d1d1b" stroke-width="1.2"/>
<line x1="438.15" y1="290" x2="446.95" y2="290" stroke="#1d1d1b" stroke-width="1.2"/>
<line x1="461.3" y1="291.25" x2="461.3" y2="308" stroke="#1d1d1b" stroke-width="1.2"/>
<line x1="456.9" y1="291.25" x2="465.7" y2="291.25" stroke="#1d1d1b" stroke-width="1.2"/>
<line x1="456.9" y1="308" x2="465.7" y2="308" stroke="#1d1d1b" stroke-width="1.2"/>
<line x1="498.8" y1="295" x2="498.8" y2="318" stroke="#1d1d1b" stroke-width="1.2"/>
<line x1="494.4" y1="295" x2="503.2" y2="295" stroke="#1d1d1b" stroke-width="1.2"/>
<line x1="494.4" y1="318" x2="503.2" y2="318" stroke="#1d1d1b" stroke-width="1.2"/>
<circle cx="386.3" cy="250.67" r="3.35" fill="#b1d4fc" stroke="#1d1d1b" stroke-width="1.15"/>
<circle cx="411.3" cy="243.73" r="3.35" fill="#b1d4fc" stroke="#1d1d1b" stroke-width="1.15"/>
<circle cx="423.8" cy="266.27" r="3.35" fill="#b1d4fc" stroke="#1d1d1b" stroke-width="1.15"/>
<circle cx="442.55" cy="281" r="3.35" fill="#b1d4fc" stroke="#1d1d1b" stroke-width="1.15"/>
<circle cx="461.3" cy="300.07" r="3.35" fill="#b1d4fc" stroke="#1d1d1b" stroke-width="1.15"/>
<circle cx="498.8" cy="307" r="3.35" fill="#b1d4fc" stroke="#1d1d1b" stroke-width="1.15"/>
<circle cx="386.3" cy="250.67" r="3.35" fill="#fff" stroke="#1d1d1b" stroke-width="1.15"/>
<circle cx="411.3" cy="242" r="3.35" fill="#fff" stroke="#1d1d1b" stroke-width="1.15"/>
<circle cx="423.8" cy="241.13" r="3.35" fill="#fff" stroke="#1d1d1b" stroke-width="1.15"/>
<circle cx="442.55" cy="248.93" r="3.35" fill="#fff" stroke="#1d1d1b" stroke-width="1.15"/>
<circle cx="461.3" cy="268" r="3.35" fill="#fff" stroke="#1d1d1b" stroke-width="1.15"/>
<circle cx="498.8" cy="268" r="3.35" fill="#fff" stroke="#1d1d1b" stroke-width="1.15"/>
<line x1="394.5" y1="320" x2="408" y2="320" stroke="#1d1d1b" stroke-width="1.25"/>
<circle cx="401.1" cy="320" r="3.35" fill="#fff" stroke="#1d1d1b" stroke-width="1.15"/>
<line x1="394.5" y1="332.2" x2="408" y2="332.2" stroke="#1d1d1b" stroke-width="1.25"/>
<circle cx="401.1" cy="332.2" r="3.35" fill="#b1d4fc" stroke="#1d1d1b" stroke-width="1.15"/>
<text x="415.8" y="323" font-size="10" fill="#1d1d1b" stroke="#1d1d1b" stroke-width="0.25">Control-AAV</text>
<text x="415.8" y="335.3" font-size="10" fill="#1d1d1b" stroke="#1d1d1b" stroke-width="0.25">ARSA-AAV</text>
<text x="543.3" y="200.5" font-size="14.8" fill="#1d1d1b" stroke="#1d1d1b" stroke-width="0.3">h</text>
<line x1="578.9" y1="341.25" x2="578.9" y2="216.3" stroke="#1d1d1b" stroke-width="1.3"/>
<line x1="575.1" y1="341.25" x2="578.9" y2="341.25" stroke="#1d1d1b" stroke-width="1.3"/>
<text x="574.2" y="344.84" font-size="10.1" text-anchor="end" fill="#262626" stroke="#262626" stroke-width="0.25">0</text>
<line x1="575.1" y1="310.01" x2="578.9" y2="310.01" stroke="#1d1d1b" stroke-width="1.3"/>
<text x="574.2" y="313.6" font-size="10.1" text-anchor="end" fill="#262626" stroke="#262626" stroke-width="0.25">10</text>
<line x1="575.1" y1="278.77" x2="578.9" y2="278.77" stroke="#1d1d1b" stroke-width="1.3"/>
<text x="574.2" y="282.36" font-size="10.1" text-anchor="end" fill="#262626" stroke="#262626" stroke-width="0.25">20</text>
<line x1="575.1" y1="247.54" x2="578.9" y2="247.54" stroke="#1d1d1b" stroke-width="1.3"/>
<text x="574.2" y="251.12" font-size="10.1" text-anchor="end" fill="#262626" stroke="#262626" stroke-width="0.25">30</text>
<line x1="575.1" y1="216.3" x2="578.9" y2="216.3" stroke="#1d1d1b" stroke-width="1.3"/>
<text x="574.2" y="219.89" font-size="10.1" text-anchor="end" fill="#262626" stroke="#262626" stroke-width="0.25">40</text>
<line x1="575.1" y1="341.25" x2="670.25" y2="341.25" stroke="#1d1d1b" stroke-width="1.3"/>
<rect x="586.3" y="309.2" width="13.1" height="32" fill="#fff" stroke="#1d1d1b" stroke-width="1.3"/>
<rect x="607.4" y="270.1" width="13" height="71.1" fill="#b1d4fc" stroke="#1d1d1b" stroke-width="1.3"/>
<rect x="628.5" y="309.5" width="12.9" height="31.7" fill="#fff" stroke="#1d1d1b" stroke-width="1.3"/>
<rect x="649.4" y="276.6" width="13.3" height="64.6" fill="#b1d4fc" stroke="#1d1d1b" stroke-width="1.3"/>
<circle cx="592.9" cy="292.6" r="2.6" fill="#6a8ad2" stroke="#1d1d1b" stroke-width="1.05"/>
<circle cx="588.1" cy="306.1" r="2.6" fill="#6a8ad2" stroke="#1d1d1b" stroke-width="1.05"/>
<circle cx="597.3" cy="310.5" r="2.6" fill="#6a8ad2" stroke="#1d1d1b" stroke-width="1.05"/>
<circle cx="592.9" cy="324.1" r="2.6" fill="#6a8ad2" stroke="#1d1d1b" stroke-width="1.05"/>
<circle cx="613.9" cy="251.8" r="2.6" fill="#6a8ad2" stroke="#1d1d1b" stroke-width="1.05"/>
<circle cx="609.4" cy="263.3" r="2.6" fill="#6a8ad2" stroke="#1d1d1b" stroke-width="1.05"/>
<circle cx="618.4" cy="265.8" r="2.6" fill="#6a8ad2" stroke="#1d1d1b" stroke-width="1.05"/>
<circle cx="609.4" cy="269.6" r="2.6" fill="#6a8ad2" stroke="#1d1d1b" stroke-width="1.05"/>
<circle cx="614.6" cy="267.1" r="2.6" fill="#6a8ad2" stroke="#1d1d1b" stroke-width="1.05"/>
<circle cx="609.4" cy="284.1" r="2.6" fill="#6a8ad2" stroke="#1d1d1b" stroke-width="1.05"/>
<circle cx="618.4" cy="280.7" r="2.6" fill="#6a8ad2" stroke="#1d1d1b" stroke-width="1.05"/>
<circle cx="634.9" cy="297.2" r="2.6" fill="#6a8ad2" stroke="#1d1d1b" stroke-width="1.05"/>
<circle cx="634.9" cy="305.8" r="2.6" fill="#6a8ad2" stroke="#1d1d1b" stroke-width="1.05"/>
<circle cx="630.4" cy="316.6" r="2.6" fill="#6a8ad2" stroke="#1d1d1b" stroke-width="1.05"/>
<circle cx="639.4" cy="315.3" r="2.6" fill="#6a8ad2" stroke="#1d1d1b" stroke-width="1.05"/>
<circle cx="651.5" cy="264.1" r="2.6" fill="#6a8ad2" stroke="#1d1d1b" stroke-width="1.05"/>
<circle cx="656.2" cy="268.1" r="2.6" fill="#6a8ad2" stroke="#1d1d1b" stroke-width="1.05"/>
<circle cx="651.5" cy="276.6" r="2.6" fill="#6a8ad2" stroke="#1d1d1b" stroke-width="1.05"/>
<circle cx="655.9" cy="276.6" r="2.6" fill="#6a8ad2" stroke="#1d1d1b" stroke-width="1.05"/>
<circle cx="660.4" cy="276.6" r="2.6" fill="#6a8ad2" stroke="#1d1d1b" stroke-width="1.05"/>
<circle cx="655.9" cy="286.8" r="2.6" fill="#6a8ad2" stroke="#1d1d1b" stroke-width="1.05"/>
<line x1="592.9" y1="302" x2="592.9" y2="314.6" stroke="#1d1d1b" stroke-width="1.2"/>
<line x1="589.5" y1="302" x2="596.3" y2="302" stroke="#1d1d1b" stroke-width="1.2"/>
<line x1="589.5" y1="314.6" x2="596.3" y2="314.6" stroke="#1d1d1b" stroke-width="1.2"/>
<line x1="614.1" y1="264.8" x2="614.1" y2="273.9" stroke="#1d1d1b" stroke-width="1.2"/>
<line x1="610.6" y1="264.8" x2="617.6" y2="264.8" stroke="#1d1d1b" stroke-width="1.2"/>
<line x1="610.6" y1="273.9" x2="617.6" y2="273.9" stroke="#1d1d1b" stroke-width="1.2"/>
<line x1="634.9" y1="306.5" x2="634.9" y2="313.9" stroke="#1d1d1b" stroke-width="1.2"/>
<line x1="631.5" y1="306.5" x2="638.3" y2="306.5" stroke="#1d1d1b" stroke-width="1.2"/>
<line x1="631.5" y1="313.9" x2="638.3" y2="313.9" stroke="#1d1d1b" stroke-width="1.2"/>
<line x1="655.9" y1="271.6" x2="655.9" y2="278.7" stroke="#1d1d1b" stroke-width="1.2"/>
<line x1="652.5" y1="271.6" x2="659.3" y2="271.6" stroke="#1d1d1b" stroke-width="1.2"/>
<line x1="652.5" y1="278.7" x2="659.3" y2="278.7" stroke="#1d1d1b" stroke-width="1.2"/>
<text x="614.1" y="244.46" font-size="11" text-anchor="middle" font-weight="bold" fill="#1d1d1b" stroke="#1d1d1b" stroke-width="0.25">*</text>
<text x="656.3" y="258.75" font-size="11" text-anchor="middle" font-weight="bold" fill="#1d1d1b" stroke="#1d1d1b" stroke-width="0.25">*</text>
<rect x="584.4" y="209.8" width="6.2" height="6.4" fill="#fff" stroke="#1d1d1b" stroke-width="1.4"/>
<rect x="584.4" y="222.2" width="6.2" height="7.1" fill="#b1d4fc" stroke="#1d1d1b" stroke-width="1.4"/>
<text x="595.25" y="216.8" font-size="10" fill="#1d1d1b" stroke="#1d1d1b" stroke-width="0.25">Control-AAV</text>
<text x="595.25" y="229.5" font-size="10" fill="#1d1d1b" stroke="#1d1d1b" stroke-width="0.25">ARSA-AAV</text>
<text x="603.25" y="355.75" font-size="10" text-anchor="middle" font-weight="bold" fill="#1d1d1b" stroke="#1d1d1b" stroke-width="0.25">Quad</text>
<text x="645.25" y="355.75" font-size="10" text-anchor="middle" font-weight="bold" fill="#1d1d1b" stroke="#1d1d1b" stroke-width="0.25">Gastroc</text>
<text x="542" y="277.5" font-size="10" text-anchor="middle" font-weight="bold" fill="#1d1d1b" stroke="#1d1d1b" stroke-width="0.25" transform="rotate(-90 542 277.5)">Insulin-stimulated 2DG</text>
<text x="554.5" y="277.5" font-size="10" text-anchor="middle" font-weight="bold" fill="#1d1d1b" stroke="#1d1d1b" stroke-width="0.25" transform="rotate(-90 554.5 277.5)">Uptake (DPM/mg tissue)</text>
<text x="15.86" y="398.4" font-size="14.8" fill="#1d1d1b" stroke="#1d1d1b" stroke-width="0.3">i</text>
<text x="58.5" y="419.8" font-size="8.2" text-anchor="middle" font-weight="bold" fill="#1d1d1b" stroke="#1d1d1b" stroke-width="0.25">Control</text>
<text x="58.5" y="428.6" font-size="8.2" text-anchor="middle" font-weight="bold" fill="#1d1d1b" stroke="#1d1d1b" stroke-width="0.25">AAV</text>
<text x="100" y="419.8" font-size="8.2" text-anchor="middle" font-weight="bold" fill="#1d1d1b" stroke="#1d1d1b" stroke-width="0.25">ARSA</text>
<text x="100" y="428.6" font-size="8.2" text-anchor="middle" font-weight="bold" fill="#1d1d1b" stroke="#1d1d1b" stroke-width="0.25">AAV</text>
<line x1="43" y1="431.6" x2="75.3" y2="431.6" stroke="#707070" stroke-width="1.4"/>
<line x1="84.2" y1="431.6" x2="116.7" y2="431.6" stroke="#707070" stroke-width="1.4"/>
<rect x="38.7" y="435.2" width="83" height="11.6" fill="#c9c9c9" stroke="#4a4a4a" stroke-width="0.9"/>
<rect x="38.7" y="449.2" width="83" height="10.9" fill="#cfcfcf" stroke="#4a4a4a" stroke-width="0.9"/>
<rect x="41.5" y="438.3" width="17" height="2" fill="#c4c4c4"/>
<rect x="42" y="438.9" width="16" height="0.8" fill="#bdbdbd"/>
<rect x="63.5" y="438.5" width="16" height="2" fill="#c4c4c4"/>
<rect x="64" y="439.1" width="15" height="0.8" fill="#bdbdbd"/>
<rect x="83.5" y="438.6" width="16.4" height="2.6" fill="#959595"/>
<rect x="84" y="439.2" width="15.4" height="1.4" fill="#4c4c4c"/>
<rect x="102.5" y="439.35" width="16.4" height="2.3" fill="#a5a5a5"/>
<rect x="103" y="439.95" width="15.4" height="1.1" fill="#707070"/>
<rect x="41.1" y="451.55" width="18.7" height="2.1" fill="#c2c2c2"/>
<rect x="41.6" y="452.15" width="17.7" height="0.9" fill="#a8a8a8"/>
<rect x="41.1" y="454.55" width="18.7" height="2.1" fill="#bebebe"/>
<rect x="41.6" y="455.15" width="17.7" height="0.9" fill="#9a9a9a"/>
<rect x="64.7" y="451.2" width="13.5" height="2.4" fill="#9a9a9a"/>
<rect x="65.2" y="451.8" width="12.5" height="1.2" fill="#5a5a5a"/>
<rect x="64.7" y="454.25" width="13.5" height="2.7" fill="#8c8c8c"/>
<rect x="65.2" y="454.85" width="12.5" height="1.5" fill="#3a3a3a"/>
<rect x="83.8" y="452.4" width="15.4" height="2" fill="#c0c0c0"/>
<rect x="84.3" y="453" width="14.4" height="0.8" fill="#a5a5a5"/>
<rect x="83.8" y="455.15" width="15.4" height="2.3" fill="#9a9a9a"/>
<rect x="84.3" y="455.75" width="14.4" height="1.1" fill="#5a5a5a"/>
<rect x="103.5" y="452.55" width="15.4" height="2.1" fill="#b5b5b5"/>
<rect x="104" y="453.15" width="14.4" height="0.9" fill="#8a8a8a"/>
<rect x="103.5" y="455.65" width="15.4" height="2.7" fill="#909090"/>
<rect x="104" y="456.25" width="14.4" height="1.5" fill="#454545"/>
<text x="36.9" y="443.9" font-size="8.2" text-anchor="end" fill="#1d1d1b" stroke="#1d1d1b" stroke-width="0.25">Akt S473</text>
<text x="36" y="457.3" font-size="8.2" text-anchor="end" fill="#1d1d1b" stroke="#1d1d1b" stroke-width="0.25">Akt</text>
<text x="122.6" y="448.2" font-size="6" font-weight="bold" fill="#1d1d1b" stroke="#1d1d1b" stroke-width="0.25">50</text>
<text x="122.6" y="461.4" font-size="6" font-weight="bold" fill="#1d1d1b" stroke="#1d1d1b" stroke-width="0.25">50</text>
<line x1="176.4" y1="529.2" x2="176.4" y2="415.4" stroke="#1d1d1b" stroke-width="1.3"/>
<line x1="173.1" y1="529.2" x2="176.4" y2="529.2" stroke="#1d1d1b" stroke-width="1.3"/>
<text x="172.4" y="532.61" font-size="9.6" text-anchor="end" fill="#262626" stroke="#262626" stroke-width="0.25">0</text>
<line x1="173.1" y1="500.75" x2="176.4" y2="500.75" stroke="#1d1d1b" stroke-width="1.3"/>
<text x="172.4" y="504.16" font-size="9.6" text-anchor="end" fill="#262626" stroke="#262626" stroke-width="0.25">2</text>
<line x1="173.1" y1="472.3" x2="176.4" y2="472.3" stroke="#1d1d1b" stroke-width="1.3"/>
<text x="172.4" y="475.71" font-size="9.6" text-anchor="end" fill="#262626" stroke="#262626" stroke-width="0.25">4</text>
<line x1="173.1" y1="443.85" x2="176.4" y2="443.85" stroke="#1d1d1b" stroke-width="1.3"/>
<text x="172.4" y="447.26" font-size="9.6" text-anchor="end" fill="#262626" stroke="#262626" stroke-width="0.25">6</text>
<line x1="173.1" y1="415.4" x2="176.4" y2="415.4" stroke="#1d1d1b" stroke-width="1.3"/>
<text x="172.4" y="418.81" font-size="9.6" text-anchor="end" fill="#262626" stroke="#262626" stroke-width="0.25">8</text>
<line x1="173.1" y1="529.2" x2="266.25" y2="529.2" stroke="#1d1d1b" stroke-width="1.3"/>
<rect x="189.5" y="515.5" width="24.9" height="13.7" fill="#fff" stroke="#1d1d1b" stroke-width="1.3"/>
<rect x="228.4" y="478.2" width="24.1" height="51" fill="#b1d4fc" stroke="#1d1d1b" stroke-width="1.3"/>
<circle cx="197.2" cy="512.4" r="2.6" fill="#6a8ad2" stroke="#1d1d1b" stroke-width="1.05"/>
<circle cx="206.4" cy="509" r="2.6" fill="#6a8ad2" stroke="#1d1d1b" stroke-width="1.05"/>
<circle cx="206.4" cy="514.8" r="2.6" fill="#6a8ad2" stroke="#1d1d1b" stroke-width="1.05"/>
<circle cx="202" cy="524.7" r="2.6" fill="#6a8ad2" stroke="#1d1d1b" stroke-width="1.05"/>
<circle cx="240.3" cy="447" r="2.6" fill="#6a8ad2" stroke="#1d1d1b" stroke-width="1.05"/>
<circle cx="240.3" cy="463" r="2.6" fill="#6a8ad2" stroke="#1d1d1b" stroke-width="1.05"/>
<circle cx="240.3" cy="492.4" r="2.6" fill="#6a8ad2" stroke="#1d1d1b" stroke-width="1.05"/>
<circle cx="240.3" cy="508" r="2.6" fill="#6a8ad2" stroke="#1d1d1b" stroke-width="1.05"/>
<line x1="202" y1="511.8" x2="202" y2="518.6" stroke="#1d1d1b" stroke-width="1.2"/>
<line x1="195.8" y1="511.8" x2="208.2" y2="511.8" stroke="#1d1d1b" stroke-width="1.2"/>
<line x1="195.8" y1="518.6" x2="208.2" y2="518.6" stroke="#1d1d1b" stroke-width="1.2"/>
<line x1="240.3" y1="463.7" x2="240.3" y2="491.3" stroke="#1d1d1b" stroke-width="1.2"/>
<line x1="233.7" y1="463.7" x2="246.9" y2="463.7" stroke="#1d1d1b" stroke-width="1.2"/>
<line x1="233.7" y1="491.3" x2="246.9" y2="491.3" stroke="#1d1d1b" stroke-width="1.2"/>
<text x="240.3" y="440.44" font-size="9" text-anchor="middle" font-weight="bold" fill="#1d1d1b" stroke="#1d1d1b" stroke-width="0.25">*</text>
<text x="202" y="541.3" font-size="9.3" text-anchor="middle" font-weight="bold" fill="#1d1d1b" stroke="#1d1d1b" stroke-width="0.25">Control</text>
<text x="202" y="552.6" font-size="9.3" text-anchor="middle" font-weight="bold" fill="#1d1d1b" stroke="#1d1d1b" stroke-width="0.25">AAV</text>
<text x="241.25" y="541.3" font-size="9.3" text-anchor="middle" font-weight="bold" fill="#1d1d1b" stroke="#1d1d1b" stroke-width="0.25">ARSA</text>
<text x="241.25" y="552.6" font-size="9.3" text-anchor="middle" font-weight="bold" fill="#1d1d1b" stroke="#1d1d1b" stroke-width="0.25">AAV</text>
<text x="150.29" y="471.25" font-size="9.3" text-anchor="middle" font-weight="bold" fill="#1d1d1b" stroke="#1d1d1b" stroke-width="0.25" transform="rotate(-90 150.29 471.25)">Akt pS473 / Akt</text>
<text x="162.79" y="471.25" font-size="9.3" text-anchor="middle" font-weight="bold" fill="#1d1d1b" stroke="#1d1d1b" stroke-width="0.25" transform="rotate(-90 162.79 471.25)">(relative to Control-AAV)</text>
<text x="298.76" y="398.3" font-size="14.8" fill="#1d1d1b" stroke="#1d1d1b" stroke-width="0.3">j</text>
<text x="366.25" y="400" font-size="12.6" text-anchor="middle" font-style="italic" fill="#1d1d1b" stroke="#1d1d1b" stroke-width="0.25">Myotubes</text>
<line x1="339.6" y1="530.9" x2="339.6" y2="417.5" stroke="#1d1d1b" stroke-width="1.3"/>
<line x1="335.3" y1="530.9" x2="339.6" y2="530.9" stroke="#1d1d1b" stroke-width="1.3"/>
<text x="334" y="534.1" font-size="9" text-anchor="end" fill="#262626" stroke="#262626" stroke-width="0.25">0</text>
<line x1="335.3" y1="493.1" x2="339.6" y2="493.1" stroke="#1d1d1b" stroke-width="1.3"/>
<text x="334" y="496.29" font-size="9" text-anchor="end" fill="#262626" stroke="#262626" stroke-width="0.25">10</text>
<line x1="335.3" y1="455.3" x2="339.6" y2="455.3" stroke="#1d1d1b" stroke-width="1.3"/>
<text x="334" y="458.5" font-size="9" text-anchor="end" fill="#262626" stroke="#262626" stroke-width="0.25">20</text>
<line x1="335.3" y1="417.5" x2="339.6" y2="417.5" stroke="#1d1d1b" stroke-width="1.3"/>
<text x="334" y="420.69" font-size="9" text-anchor="end" fill="#262626" stroke="#262626" stroke-width="0.25">30</text>
<line x1="335.3" y1="530.9" x2="418" y2="530.9" stroke="#1d1d1b" stroke-width="1.3"/>
<rect x="351.4" y="473.2" width="21.1" height="57.7" fill="#fff" stroke="#1d1d1b" stroke-width="1.3"/>
<rect x="384.7" y="457.2" width="21.2" height="73.7" fill="#b1d4fc" stroke="#1d1d1b" stroke-width="1.3"/>
<circle cx="353.2" cy="465" r="2.6" fill="#6a8ad2" stroke="#1d1d1b" stroke-width="1.05"/>
<circle cx="359.1" cy="466.1" r="2.6" fill="#6a8ad2" stroke="#1d1d1b" stroke-width="1.05"/>
<circle cx="353.2" cy="471.3" r="2.6" fill="#6a8ad2" stroke="#1d1d1b" stroke-width="1.05"/>
<circle cx="359.1" cy="472.5" r="2.6" fill="#6a8ad2" stroke="#1d1d1b" stroke-width="1.05"/>
<circle cx="364.8" cy="469.8" r="2.6" fill="#6a8ad2" stroke="#1d1d1b" stroke-width="1.05"/>
<circle cx="364.8" cy="475.7" r="2.6" fill="#6a8ad2" stroke="#1d1d1b" stroke-width="1.05"/>
<circle cx="370.7" cy="471.6" r="2.6" fill="#6a8ad2" stroke="#1d1d1b" stroke-width="1.05"/>
<circle cx="362.1" cy="490.9" r="2.6" fill="#6a8ad2" stroke="#1d1d1b" stroke-width="1.05"/>
<circle cx="395.2" cy="430" r="2.6" fill="#6a8ad2" stroke="#1d1d1b" stroke-width="1.05"/>
<circle cx="395.2" cy="446.3" r="2.6" fill="#6a8ad2" stroke="#1d1d1b" stroke-width="1.05"/>
<circle cx="386.6" cy="453" r="2.6" fill="#6a8ad2" stroke="#1d1d1b" stroke-width="1.05"/>
<circle cx="395.5" cy="455.7" r="2.6" fill="#6a8ad2" stroke="#1d1d1b" stroke-width="1.05"/>
<circle cx="404.1" cy="463.5" r="2.6" fill="#6a8ad2" stroke="#1d1d1b" stroke-width="1.05"/>
<circle cx="386.6" cy="468.6" r="2.6" fill="#6a8ad2" stroke="#1d1d1b" stroke-width="1.05"/>
<circle cx="395.5" cy="467.6" r="2.6" fill="#6a8ad2" stroke="#1d1d1b" stroke-width="1.05"/>
<circle cx="404.1" cy="468.3" r="2.6" fill="#6a8ad2" stroke="#1d1d1b" stroke-width="1.05"/>
<line x1="361.5" y1="471.3" x2="361.5" y2="476" stroke="#1d1d1b" stroke-width="1.2"/>
<line x1="356.1" y1="471.3" x2="366.9" y2="471.3" stroke="#1d1d1b" stroke-width="1.2"/>
<line x1="356.1" y1="476" x2="366.9" y2="476" stroke="#1d1d1b" stroke-width="1.2"/>
<line x1="395.2" y1="451.7" x2="395.2" y2="461.3" stroke="#1d1d1b" stroke-width="1.2"/>
<line x1="389.3" y1="451.7" x2="401.1" y2="451.7" stroke="#1d1d1b" stroke-width="1.2"/>
<line x1="389.3" y1="461.3" x2="401.1" y2="461.3" stroke="#1d1d1b" stroke-width="1.2"/>
<text x="395.75" y="417.29" font-size="8.5" text-anchor="middle" font-weight="bold" fill="#1d1d1b" stroke="#1d1d1b" stroke-width="0.25">*</text>
<text x="362" y="541.9" font-size="9.2" text-anchor="middle" font-weight="bold" fill="#1d1d1b" stroke="#1d1d1b" stroke-width="0.25">Control</text>
<text x="362" y="553.2" font-size="9.2" text-anchor="middle" font-weight="bold" fill="#1d1d1b" stroke="#1d1d1b" stroke-width="0.25">AAV</text>
<text x="398" y="541.9" font-size="9.2" text-anchor="middle" font-weight="bold" fill="#1d1d1b" stroke="#1d1d1b" stroke-width="0.25">ARSA</text>
<text x="398" y="553.2" font-size="9.2" text-anchor="middle" font-weight="bold" fill="#1d1d1b" stroke="#1d1d1b" stroke-width="0.25">AAV</text>
<text x="304.01" y="473" font-size="9.2" text-anchor="middle" font-weight="bold" fill="#1d1d1b" stroke="#1d1d1b" stroke-width="0.25" transform="rotate(-90 304.01 473)">Insulin-stimulated 2DG</text>
<text x="314.81" y="473.6" font-size="9.05" text-anchor="middle" font-weight="bold" fill="#1d1d1b" stroke="#1d1d1b" stroke-width="0.25" transform="rotate(-90 314.81 473.6)">uptake (nmol/mg protein)</text>
<text x="443.26" y="398.7" font-size="14.8" fill="#1d1d1b" stroke="#1d1d1b" stroke-width="0.3">k</text>
<line x1="477.1" y1="530.9" x2="477.1" y2="410.5" stroke="#1d1d1b" stroke-width="1.3"/>
<line x1="472.5" y1="530.9" x2="477.1" y2="530.9" stroke="#1d1d1b" stroke-width="1.3"/>
<text x="471.1" y="534.2" font-size="9.3" text-anchor="end" fill="#262626" stroke="#262626" stroke-width="0.25">0.0</text>
<line x1="472.5" y1="490.77" x2="477.1" y2="490.77" stroke="#1d1d1b" stroke-width="1.3"/>
<text x="471.1" y="494.07" font-size="9.3" text-anchor="end" fill="#262626" stroke="#262626" stroke-width="0.25">0.5</text>
<line x1="472.5" y1="450.63" x2="477.1" y2="450.63" stroke="#1d1d1b" stroke-width="1.3"/>
<text x="471.1" y="453.93" font-size="9.3" text-anchor="end" fill="#262626" stroke="#262626" stroke-width="0.25">1.0</text>
<line x1="472.5" y1="410.5" x2="477.1" y2="410.5" stroke="#1d1d1b" stroke-width="1.3"/>
<text x="471.1" y="413.8" font-size="9.3" text-anchor="end" fill="#262626" stroke="#262626" stroke-width="0.25">1.5</text>
<line x1="472.5" y1="530.9" x2="560" y2="530.9" stroke="#1d1d1b" stroke-width="1.3"/>
<rect x="489.5" y="451.5" width="22.4" height="79.4" fill="#fff" stroke="#1d1d1b" stroke-width="1.3"/>
<rect x="525.3" y="494.3" width="22.1" height="36.6" fill="#b1d4fc" stroke="#1d1d1b" stroke-width="1.3"/>
<circle cx="500.6" cy="414.6" r="2.6" fill="#6a8ad2" stroke="#1d1d1b" stroke-width="1.05"/>
<circle cx="495.9" cy="442.4" r="2.6" fill="#6a8ad2" stroke="#1d1d1b" stroke-width="1.05"/>
<circle cx="505.5" cy="440.3" r="2.6" fill="#6a8ad2" stroke="#1d1d1b" stroke-width="1.05"/>
<circle cx="495.9" cy="458.7" r="2.6" fill="#6a8ad2" stroke="#1d1d1b" stroke-width="1.05"/>
<circle cx="505.5" cy="456.5" r="2.6" fill="#6a8ad2" stroke="#1d1d1b" stroke-width="1.05"/>
<circle cx="495.9" cy="474.2" r="2.6" fill="#6a8ad2" stroke="#1d1d1b" stroke-width="1.05"/>
<circle cx="505.5" cy="470.1" r="2.6" fill="#6a8ad2" stroke="#1d1d1b" stroke-width="1.05"/>
<circle cx="536.2" cy="480.5" r="2.6" fill="#6a8ad2" stroke="#1d1d1b" stroke-width="1.05"/>
<circle cx="526.6" cy="484.7" r="2.6" fill="#6a8ad2" stroke="#1d1d1b" stroke-width="1.05"/>
<circle cx="545.8" cy="483.9" r="2.6" fill="#6a8ad2" stroke="#1d1d1b" stroke-width="1.05"/>
<circle cx="536.2" cy="487.8" r="2.6" fill="#6a8ad2" stroke="#1d1d1b" stroke-width="1.05"/>
<circle cx="536.2" cy="496.2" r="2.6" fill="#6a8ad2" stroke="#1d1d1b" stroke-width="1.05"/>
<circle cx="536.2" cy="507.4" r="2.6" fill="#6a8ad2" stroke="#1d1d1b" stroke-width="1.05"/>
<circle cx="536.2" cy="515" r="2.6" fill="#6a8ad2" stroke="#1d1d1b" stroke-width="1.05"/>
<line x1="500.6" y1="443.6" x2="500.6" y2="458.4" stroke="#1d1d1b" stroke-width="1.2"/>
<line x1="497" y1="443.6" x2="504.2" y2="443.6" stroke="#1d1d1b" stroke-width="1.2"/>
<line x1="497" y1="458.4" x2="504.2" y2="458.4" stroke="#1d1d1b" stroke-width="1.2"/>
<line x1="536.2" y1="488.4" x2="536.2" y2="498.2" stroke="#1d1d1b" stroke-width="1.2"/>
<line x1="530.3" y1="488.4" x2="542.1" y2="488.4" stroke="#1d1d1b" stroke-width="1.2"/>
<line x1="530.3" y1="498.2" x2="542.1" y2="498.2" stroke="#1d1d1b" stroke-width="1.2"/>
<text x="536.2" y="466.94" font-size="9" text-anchor="middle" font-weight="bold" fill="#1d1d1b" stroke="#1d1d1b" stroke-width="0.25">*</text>
<text x="500.5" y="542.4" font-size="9.2" text-anchor="middle" font-weight="bold" fill="#1d1d1b" stroke="#1d1d1b" stroke-width="0.25">Control</text>
<text x="500.5" y="554.2" font-size="9.2" text-anchor="middle" font-weight="bold" fill="#1d1d1b" stroke="#1d1d1b" stroke-width="0.25">shRNA</text>
<text x="537" y="542.4" font-size="9.2" text-anchor="middle" font-weight="bold" fill="#1d1d1b" stroke="#1d1d1b" stroke-width="0.25">ARSA</text>
<text x="537" y="554.2" font-size="9.2" text-anchor="middle" font-weight="bold" fill="#1d1d1b" stroke="#1d1d1b" stroke-width="0.25">shRNA</text>
<text x="439.76" y="470" font-size="9.2" text-anchor="middle" font-weight="bold" fill="#1d1d1b" stroke="#1d1d1b" stroke-width="0.25" transform="rotate(-90 439.76 470)">ARSA protein</text>
<text x="451.56" y="469.5" font-size="9.2" text-anchor="middle" font-weight="bold" fill="#1d1d1b" stroke="#1d1d1b" stroke-width="0.25" transform="rotate(-90 451.56 469.5)">(relative to total protein)</text>
<text x="573.56" y="399" font-size="14.8" fill="#1d1d1b" stroke="#1d1d1b" stroke-width="0.3">l</text>
<line x1="602.4" y1="531" x2="602.4" y2="410.5" stroke="#1d1d1b" stroke-width="1.3"/>
<line x1="598.2" y1="531" x2="602.4" y2="531" stroke="#1d1d1b" stroke-width="1.3"/>
<text x="597.2" y="534.34" font-size="9.4" text-anchor="end" fill="#262626" stroke="#262626" stroke-width="0.25">0</text>
<line x1="598.2" y1="506.9" x2="602.4" y2="506.9" stroke="#1d1d1b" stroke-width="1.3"/>
<text x="597.2" y="510.24" font-size="9.4" text-anchor="end" fill="#262626" stroke="#262626" stroke-width="0.25">2</text>
<line x1="598.2" y1="482.8" x2="602.4" y2="482.8" stroke="#1d1d1b" stroke-width="1.3"/>
<text x="597.2" y="486.14" font-size="9.4" text-anchor="end" fill="#262626" stroke="#262626" stroke-width="0.25">4</text>
<line x1="598.2" y1="458.7" x2="602.4" y2="458.7" stroke="#1d1d1b" stroke-width="1.3"/>
<text x="597.2" y="462.04" font-size="9.4" text-anchor="end" fill="#262626" stroke="#262626" stroke-width="0.25">6</text>
<line x1="598.2" y1="434.6" x2="602.4" y2="434.6" stroke="#1d1d1b" stroke-width="1.3"/>
<text x="597.2" y="437.94" font-size="9.4" text-anchor="end" fill="#262626" stroke="#262626" stroke-width="0.25">8</text>
<line x1="598.2" y1="410.5" x2="602.4" y2="410.5" stroke="#1d1d1b" stroke-width="1.3"/>
<text x="597.2" y="413.84" font-size="9.4" text-anchor="end" fill="#262626" stroke="#262626" stroke-width="0.25">10</text>
<line x1="598.2" y1="531" x2="685" y2="531" stroke="#1d1d1b" stroke-width="1.3"/>
<rect x="614.7" y="496.2" width="22.6" height="34.8" fill="#fff" stroke="#1d1d1b" stroke-width="1.3"/>
<rect x="650.4" y="504.2" width="22.2" height="26.8" fill="#b1d4fc" stroke="#1d1d1b" stroke-width="1.3"/>
<circle cx="625.9" cy="457.9" r="2.6" fill="#6a8ad2" stroke="#1d1d1b" stroke-width="1.05"/>
<circle cx="625.9" cy="479.1" r="2.6" fill="#6a8ad2" stroke="#1d1d1b" stroke-width="1.05"/>
<circle cx="625.9" cy="494.5" r="2.6" fill="#6a8ad2" stroke="#1d1d1b" stroke-width="1.05"/>
<circle cx="625.9" cy="500.5" r="2.6" fill="#6a8ad2" stroke="#1d1d1b" stroke-width="1.05"/>
<circle cx="625.9" cy="506.3" r="2.6" fill="#6a8ad2" stroke="#1d1d1b" stroke-width="1.05"/>
<circle cx="625.9" cy="511.2" r="2.6" fill="#6a8ad2" stroke="#1d1d1b" stroke-width="1.05"/>
<circle cx="625.9" cy="519.2" r="2.6" fill="#6a8ad2" stroke="#1d1d1b" stroke-width="1.05"/>
<circle cx="661.1" cy="464.3" r="2.6" fill="#6a8ad2" stroke="#1d1d1b" stroke-width="1.05"/>
<circle cx="661.1" cy="479.1" r="2.6" fill="#6a8ad2" stroke="#1d1d1b" stroke-width="1.05"/>
<circle cx="656.5" cy="501.4" r="2.6" fill="#6a8ad2" stroke="#1d1d1b" stroke-width="1.05"/>
<circle cx="666" cy="503" r="2.6" fill="#6a8ad2" stroke="#1d1d1b" stroke-width="1.05"/>
<circle cx="651.8" cy="527.3" r="2.6" fill="#6a8ad2" stroke="#1d1d1b" stroke-width="1.05"/>
<circle cx="661.1" cy="525" r="2.6" fill="#6a8ad2" stroke="#1d1d1b" stroke-width="1.05"/>
<circle cx="670.7" cy="525.8" r="2.6" fill="#6a8ad2" stroke="#1d1d1b" stroke-width="1.05"/>
<line x1="625.9" y1="487.7" x2="625.9" y2="503.5" stroke="#1d1d1b" stroke-width="1.2"/>
<line x1="619.9" y1="487.7" x2="631.9" y2="487.7" stroke="#1d1d1b" stroke-width="1.2"/>
<line x1="619.9" y1="503.5" x2="631.9" y2="503.5" stroke="#1d1d1b" stroke-width="1.2"/>
<line x1="661.1" y1="494.5" x2="661.1" y2="513.2" stroke="#1d1d1b" stroke-width="1.2"/>
<line x1="654.8" y1="494.5" x2="667.4" y2="494.5" stroke="#1d1d1b" stroke-width="1.2"/>
<line x1="654.8" y1="513.2" x2="667.4" y2="513.2" stroke="#1d1d1b" stroke-width="1.2"/>
<text x="626" y="542.3" font-size="9.2" text-anchor="middle" font-weight="bold" fill="#1d1d1b" stroke="#1d1d1b" stroke-width="0.25">Control</text>
<text x="626" y="553.65" font-size="9.2" text-anchor="middle" font-weight="bold" fill="#1d1d1b" stroke="#1d1d1b" stroke-width="0.25">shRNA</text>
<text x="662" y="542.3" font-size="9.2" text-anchor="middle" font-weight="bold" fill="#1d1d1b" stroke="#1d1d1b" stroke-width="0.25">ARSA</text>
<text x="662" y="553.65" font-size="9.2" text-anchor="middle" font-weight="bold" fill="#1d1d1b" stroke="#1d1d1b" stroke-width="0.25">shRNA</text>
<text x="579.26" y="469.5" font-size="9.2" text-anchor="middle" font-weight="bold" fill="#1d1d1b" stroke="#1d1d1b" stroke-width="0.25" transform="rotate(-90 579.26 469.5)">Plasma ARSA (ng/mL)</text>
<text x="41.16" y="598.9" font-size="14.8" fill="#1d1d1b" stroke="#1d1d1b" stroke-width="0.3">m</text>
<line x1="62.2" y1="738" x2="62.2" y2="617" stroke="#1d1d1b" stroke-width="1.3"/>
<line x1="57.5" y1="738" x2="62.2" y2="738" stroke="#1d1d1b" stroke-width="1.3"/>
<text x="56.1" y="741.2" font-size="9" text-anchor="end" fill="#262626" stroke="#262626" stroke-width="0.25">0</text>
<line x1="57.5" y1="713.8" x2="62.2" y2="713.8" stroke="#1d1d1b" stroke-width="1.3"/>
<text x="56.1" y="717" font-size="9" text-anchor="end" fill="#262626" stroke="#262626" stroke-width="0.25">2</text>
<line x1="57.5" y1="689.6" x2="62.2" y2="689.6" stroke="#1d1d1b" stroke-width="1.3"/>
<text x="56.1" y="692.8" font-size="9" text-anchor="end" fill="#262626" stroke="#262626" stroke-width="0.25">4</text>
<line x1="57.5" y1="665.4" x2="62.2" y2="665.4" stroke="#1d1d1b" stroke-width="1.3"/>
<text x="56.1" y="668.6" font-size="9" text-anchor="end" fill="#262626" stroke="#262626" stroke-width="0.25">6</text>
<line x1="57.5" y1="641.2" x2="62.2" y2="641.2" stroke="#1d1d1b" stroke-width="1.3"/>
<text x="56.1" y="644.4" font-size="9" text-anchor="end" fill="#262626" stroke="#262626" stroke-width="0.25">8</text>
<line x1="57.5" y1="617" x2="62.2" y2="617" stroke="#1d1d1b" stroke-width="1.3"/>
<text x="56.1" y="620.2" font-size="9" text-anchor="end" fill="#262626" stroke="#262626" stroke-width="0.25">10</text>
<line x1="57.5" y1="738" x2="145.5" y2="738" stroke="#1d1d1b" stroke-width="1.3"/>
<rect x="74.5" y="649" width="23" height="89" fill="#fff" stroke="#1d1d1b" stroke-width="1.3"/>
<rect x="110.7" y="637.6" width="22.2" height="100.4" fill="#b1d4fc" stroke="#1d1d1b" stroke-width="1.3"/>
<circle cx="85.9" cy="636.1" r="2.6" fill="#6a8ad2" stroke="#1d1d1b" stroke-width="1.05"/>
<circle cx="81.2" cy="645.7" r="2.6" fill="#6a8ad2" stroke="#1d1d1b" stroke-width="1.05"/>
<circle cx="90.8" cy="644.4" r="2.6" fill="#6a8ad2" stroke="#1d1d1b" stroke-width="1.05"/>
<circle cx="76.3" cy="650.6" r="2.6" fill="#6a8ad2" stroke="#1d1d1b" stroke-width="1.05"/>
<circle cx="85.9" cy="652" r="2.6" fill="#6a8ad2" stroke="#1d1d1b" stroke-width="1.05"/>
<circle cx="76.3" cy="656" r="2.6" fill="#6a8ad2" stroke="#1d1d1b" stroke-width="1.05"/>
<circle cx="95.3" cy="654.2" r="2.6" fill="#6a8ad2" stroke="#1d1d1b" stroke-width="1.05"/>
<circle cx="116.7" cy="625.3" r="2.6" fill="#6a8ad2" stroke="#1d1d1b" stroke-width="1.05"/>
<circle cx="126.4" cy="625.3" r="2.6" fill="#6a8ad2" stroke="#1d1d1b" stroke-width="1.05"/>
<circle cx="121.5" cy="631.6" r="2.6" fill="#6a8ad2" stroke="#1d1d1b" stroke-width="1.05"/>
<circle cx="116.7" cy="636.7" r="2.6" fill="#6a8ad2" stroke="#1d1d1b" stroke-width="1.05"/>
<circle cx="126.4" cy="638.5" r="2.6" fill="#6a8ad2" stroke="#1d1d1b" stroke-width="1.05"/>
<circle cx="116.7" cy="642.4" r="2.6" fill="#6a8ad2" stroke="#1d1d1b" stroke-width="1.05"/>
<circle cx="126.4" cy="644.4" r="2.6" fill="#6a8ad2" stroke="#1d1d1b" stroke-width="1.05"/>
<circle cx="121.5" cy="649.7" r="2.6" fill="#6a8ad2" stroke="#1d1d1b" stroke-width="1.05"/>
<line x1="85.9" y1="647" x2="85.9" y2="650.8" stroke="#1d1d1b" stroke-width="1.2"/>
<line x1="80.9" y1="647" x2="90.9" y2="647" stroke="#1d1d1b" stroke-width="1.2"/>
<line x1="80.9" y1="650.8" x2="90.9" y2="650.8" stroke="#1d1d1b" stroke-width="1.2"/>
<line x1="121.5" y1="633.4" x2="121.5" y2="639.4" stroke="#1d1d1b" stroke-width="1.2"/>
<line x1="116.2" y1="633.4" x2="126.8" y2="633.4" stroke="#1d1d1b" stroke-width="1.2"/>
<line x1="116.2" y1="639.4" x2="126.8" y2="639.4" stroke="#1d1d1b" stroke-width="1.2"/>
<text x="121.5" y="619.05" font-size="10" text-anchor="middle" font-weight="bold" fill="#1d1d1b" stroke="#1d1d1b" stroke-width="0.25">*</text>
<text x="85.3" y="749.9" font-size="9.3" text-anchor="middle" font-weight="bold" fill="#1d1d1b" stroke="#1d1d1b" stroke-width="0.25">Control</text>
<text x="85.3" y="760.7" font-size="9.3" text-anchor="middle" font-weight="bold" fill="#1d1d1b" stroke="#1d1d1b" stroke-width="0.25">shRNA</text>
<text x="121.5" y="749.9" font-size="9.3" text-anchor="middle" font-weight="bold" fill="#1d1d1b" stroke="#1d1d1b" stroke-width="0.25">ARSA</text>
<text x="121.5" y="760.7" font-size="9.3" text-anchor="middle" font-weight="bold" fill="#1d1d1b" stroke="#1d1d1b" stroke-width="0.25">shRNA</text>
<text x="39.04" y="676.75" font-size="9.3" text-anchor="middle" font-weight="bold" fill="#1d1d1b" stroke="#1d1d1b" stroke-width="0.25" transform="rotate(-90 39.04 676.75)">Blood glucose (mmol/L)</text>
<text x="176.46" y="598.6" font-size="14.8" fill="#1d1d1b" stroke="#1d1d1b" stroke-width="0.3">n</text>
<line x1="197.3" y1="739.5" x2="197.3" y2="620" stroke="#1d1d1b" stroke-width="1.3"/>
<line x1="192.3" y1="739.5" x2="197.3" y2="739.5" stroke="#1d1d1b" stroke-width="1.3"/>
<text x="191.1" y="742.87" font-size="9.5" text-anchor="end" fill="#262626" stroke="#262626" stroke-width="0.25">0</text>
<line x1="192.3" y1="719.58" x2="197.3" y2="719.58" stroke="#1d1d1b" stroke-width="1.3"/>
<text x="191.1" y="722.96" font-size="9.5" text-anchor="end" fill="#262626" stroke="#262626" stroke-width="0.25">3</text>
<line x1="192.3" y1="699.67" x2="197.3" y2="699.67" stroke="#1d1d1b" stroke-width="1.3"/>
<text x="191.1" y="703.04" font-size="9.5" text-anchor="end" fill="#262626" stroke="#262626" stroke-width="0.25">6</text>
<line x1="192.3" y1="679.75" x2="197.3" y2="679.75" stroke="#1d1d1b" stroke-width="1.3"/>
<text x="191.1" y="683.12" font-size="9.5" text-anchor="end" fill="#262626" stroke="#262626" stroke-width="0.25">9</text>
<line x1="192.3" y1="659.83" x2="197.3" y2="659.83" stroke="#1d1d1b" stroke-width="1.3"/>
<text x="191.1" y="663.21" font-size="9.5" text-anchor="end" fill="#262626" stroke="#262626" stroke-width="0.25">12</text>
<line x1="192.3" y1="639.92" x2="197.3" y2="639.92" stroke="#1d1d1b" stroke-width="1.3"/>
<text x="191.1" y="643.29" font-size="9.5" text-anchor="end" fill="#262626" stroke="#262626" stroke-width="0.25">15</text>
<line x1="192.3" y1="620" x2="197.3" y2="620" stroke="#1d1d1b" stroke-width="1.3"/>
<text x="191.1" y="623.37" font-size="9.5" text-anchor="end" fill="#262626" stroke="#262626" stroke-width="0.25">18</text>
<line x1="192.3" y1="739.5" x2="327.5" y2="739.5" stroke="#1d1d1b" stroke-width="1.3"/>
<line x1="197.3" y1="739.5" x2="197.3" y2="743.5" stroke="#1d1d1b" stroke-width="1.3"/>
<text x="197.3" y="754" font-size="9.5" text-anchor="middle" fill="#262626" stroke="#262626" stroke-width="0.25">0</text>
<line x1="240.28" y1="739.5" x2="240.28" y2="743.5" stroke="#1d1d1b" stroke-width="1.3"/>
<text x="240.28" y="754" font-size="9.5" text-anchor="middle" fill="#262626" stroke="#262626" stroke-width="0.25">30</text>
<line x1="283.27" y1="739.5" x2="283.27" y2="743.5" stroke="#1d1d1b" stroke-width="1.3"/>
<text x="283.27" y="754" font-size="9.5" text-anchor="middle" fill="#262626" stroke="#262626" stroke-width="0.25">60</text>
<line x1="326.25" y1="739.5" x2="326.25" y2="743.5" stroke="#1d1d1b" stroke-width="1.3"/>
<text x="326.25" y="754" font-size="9.5" text-anchor="middle" fill="#262626" stroke="#262626" stroke-width="0.25">90</text>
<text x="262.5" y="772" font-size="10" text-anchor="middle" font-weight="bold" fill="#1d1d1b" stroke="#1d1d1b" stroke-width="0.25">Time (min)</text>
<text x="172.3" y="678.8" font-size="10" text-anchor="middle" font-weight="bold" fill="#1d1d1b" stroke="#1d1d1b" stroke-width="0.25" transform="rotate(-90 172.3 678.8)">Blood glucose (mmol/L)</text>
<text x="230.5" y="629.5" font-size="10" fill="#1d1d1b" stroke="#1d1d1b" stroke-width="0.25">ARSA effect p&lt;0.05</text>
<polyline points="197.3,690.37 218.79,657.18 240.28,661.83 261.77,662.49 283.27,668.46 326.25,677.09" fill="none" stroke="#1d1d1b" stroke-width="1.25"/>
<polyline points="197.3,683.73 218.79,635.27 240.28,651.87 261.77,655.19 283.27,661.16 326.25,671.45" fill="none" stroke="#1d1d1b" stroke-width="1.25"/>
<line x1="218.79" y1="652.2" x2="218.79" y2="662.16" stroke="#1d1d1b" stroke-width="1.2"/>
<line x1="214.39" y1="652.2" x2="223.19" y2="652.2" stroke="#1d1d1b" stroke-width="1.2"/>
<line x1="214.39" y1="662.16" x2="223.19" y2="662.16" stroke="#1d1d1b" stroke-width="1.2"/>
<line x1="240.28" y1="658.51" x2="240.28" y2="665.14" stroke="#1d1d1b" stroke-width="1.2"/>
<line x1="235.88" y1="658.51" x2="244.68" y2="658.51" stroke="#1d1d1b" stroke-width="1.2"/>
<line x1="235.88" y1="665.14" x2="244.68" y2="665.14" stroke="#1d1d1b" stroke-width="1.2"/>
<line x1="261.77" y1="658.51" x2="261.77" y2="666.47" stroke="#1d1d1b" stroke-width="1.2"/>
<line x1="257.38" y1="658.51" x2="266.17" y2="658.51" stroke="#1d1d1b" stroke-width="1.2"/>
<line x1="257.38" y1="666.47" x2="266.17" y2="666.47" stroke="#1d1d1b" stroke-width="1.2"/>
<line x1="283.27" y1="664.48" x2="283.27" y2="672.45" stroke="#1d1d1b" stroke-width="1.2"/>
<line x1="278.87" y1="664.48" x2="287.67" y2="664.48" stroke="#1d1d1b" stroke-width="1.2"/>
<line x1="278.87" y1="672.45" x2="287.67" y2="672.45" stroke="#1d1d1b" stroke-width="1.2"/>
<line x1="326.25" y1="674.44" x2="326.25" y2="679.75" stroke="#1d1d1b" stroke-width="1.2"/>
<line x1="321.85" y1="674.44" x2="330.65" y2="674.44" stroke="#1d1d1b" stroke-width="1.2"/>
<line x1="321.85" y1="679.75" x2="330.65" y2="679.75" stroke="#1d1d1b" stroke-width="1.2"/>
<line x1="218.79" y1="627.63" x2="218.79" y2="642.9" stroke="#1d1d1b" stroke-width="1.2"/>
<line x1="214.39" y1="627.63" x2="223.19" y2="627.63" stroke="#1d1d1b" stroke-width="1.2"/>
<line x1="214.39" y1="642.9" x2="223.19" y2="642.9" stroke="#1d1d1b" stroke-width="1.2"/>
<line x1="240.28" y1="647.55" x2="240.28" y2="656.18" stroke="#1d1d1b" stroke-width="1.2"/>
<line x1="235.88" y1="647.55" x2="244.68" y2="647.55" stroke="#1d1d1b" stroke-width="1.2"/>
<line x1="235.88" y1="656.18" x2="244.68" y2="656.18" stroke="#1d1d1b" stroke-width="1.2"/>
<line x1="261.77" y1="651.2" x2="261.77" y2="659.17" stroke="#1d1d1b" stroke-width="1.2"/>
<line x1="257.38" y1="651.2" x2="266.17" y2="651.2" stroke="#1d1d1b" stroke-width="1.2"/>
<line x1="257.38" y1="659.17" x2="266.17" y2="659.17" stroke="#1d1d1b" stroke-width="1.2"/>
<line x1="283.27" y1="656.85" x2="283.27" y2="665.48" stroke="#1d1d1b" stroke-width="1.2"/>
<line x1="278.87" y1="656.85" x2="287.67" y2="656.85" stroke="#1d1d1b" stroke-width="1.2"/>
<line x1="278.87" y1="665.48" x2="287.67" y2="665.48" stroke="#1d1d1b" stroke-width="1.2"/>
<line x1="326.25" y1="667.8" x2="326.25" y2="675.1" stroke="#1d1d1b" stroke-width="1.2"/>
<line x1="321.85" y1="667.8" x2="330.65" y2="667.8" stroke="#1d1d1b" stroke-width="1.2"/>
<line x1="321.85" y1="675.1" x2="330.65" y2="675.1" stroke="#1d1d1b" stroke-width="1.2"/>
<circle cx="197.3" cy="690.37" r="3.25" fill="#fff" stroke="#1d1d1b" stroke-width="1.15"/>
<circle cx="218.79" cy="657.18" r="3.25" fill="#fff" stroke="#1d1d1b" stroke-width="1.15"/>
<circle cx="240.28" cy="661.83" r="3.25" fill="#fff" stroke="#1d1d1b" stroke-width="1.15"/>
<circle cx="261.77" cy="662.49" r="3.25" fill="#fff" stroke="#1d1d1b" stroke-width="1.15"/>
<circle cx="283.27" cy="668.46" r="3.25" fill="#fff" stroke="#1d1d1b" stroke-width="1.15"/>
<circle cx="326.25" cy="677.09" r="3.25" fill="#fff" stroke="#1d1d1b" stroke-width="1.15"/>
<circle cx="197.3" cy="683.73" r="3.25" fill="#b1d4fc" stroke="#1d1d1b" stroke-width="1.15"/>
<circle cx="218.79" cy="635.27" r="3.25" fill="#b1d4fc" stroke="#1d1d1b" stroke-width="1.15"/>
<circle cx="240.28" cy="651.87" r="3.25" fill="#b1d4fc" stroke="#1d1d1b" stroke-width="1.15"/>
<circle cx="261.77" cy="655.19" r="3.25" fill="#b1d4fc" stroke="#1d1d1b" stroke-width="1.15"/>
<circle cx="283.27" cy="661.16" r="3.25" fill="#b1d4fc" stroke="#1d1d1b" stroke-width="1.15"/>
<circle cx="326.25" cy="671.45" r="3.25" fill="#b1d4fc" stroke="#1d1d1b" stroke-width="1.15"/>
<line x1="207.5" y1="716.5" x2="220" y2="716.5" stroke="#1d1d1b" stroke-width="1.25"/>
<circle cx="213.75" cy="716.5" r="3.25" fill="#fff" stroke="#1d1d1b" stroke-width="1.15"/>
<line x1="207.5" y1="730.25" x2="220" y2="730.25" stroke="#1d1d1b" stroke-width="1.25"/>
<circle cx="213.75" cy="730.25" r="3.25" fill="#b1d4fc" stroke="#1d1d1b" stroke-width="1.15"/>
<text x="228.75" y="720" font-size="10" fill="#1d1d1b" stroke="#1d1d1b" stroke-width="0.25">Control shRNA</text>
<text x="228.75" y="733.75" font-size="10" fill="#1d1d1b" stroke="#1d1d1b" stroke-width="0.25">ARSA shRNA</text>
<text x="351.1" y="599.4" font-size="14.8" font-weight="bold" fill="#1d1d1b" stroke-width="0">o</text>
<line x1="383" y1="620.5" x2="383" y2="719" stroke="#1d1d1b" stroke-width="1.3"/>
<line x1="378.1" y1="719" x2="386.5" y2="719" stroke="#1d1d1b" stroke-width="1.3"/>
<line x1="378.1" y1="719" x2="383" y2="719" stroke="#1d1d1b" stroke-width="1.3"/>
<text x="377.3" y="722.4" font-size="9.5" text-anchor="end" fill="#262626" stroke="#262626" stroke-width="0.25">40</text>
<line x1="378.1" y1="694.38" x2="383" y2="694.38" stroke="#1d1d1b" stroke-width="1.3"/>
<text x="377.3" y="697.77" font-size="9.5" text-anchor="end" fill="#262626" stroke="#262626" stroke-width="0.25">60</text>
<line x1="378.1" y1="669.75" x2="383" y2="669.75" stroke="#1d1d1b" stroke-width="1.3"/>
<text x="377.3" y="673.15" font-size="9.5" text-anchor="end" fill="#262626" stroke="#262626" stroke-width="0.25">80</text>
<line x1="378.1" y1="645.12" x2="383" y2="645.12" stroke="#1d1d1b" stroke-width="1.3"/>
<text x="377.3" y="648.52" font-size="9.5" text-anchor="end" fill="#262626" stroke="#262626" stroke-width="0.25">100</text>
<line x1="378.1" y1="620.5" x2="383" y2="620.5" stroke="#1d1d1b" stroke-width="1.3"/>
<text x="377.3" y="623.9" font-size="9.5" text-anchor="end" fill="#262626" stroke="#262626" stroke-width="0.25">120</text>
<line x1="383" y1="727.75" x2="383" y2="739" stroke="#1d1d1b" stroke-width="1.3"/>
<line x1="378.1" y1="727.75" x2="386.5" y2="727.75" stroke="#1d1d1b" stroke-width="1.3"/>
<text x="377.3" y="731.15" font-size="9.5" text-anchor="end" fill="#262626" stroke="#262626" stroke-width="0.25">30</text>
<text x="377.3" y="742.4" font-size="9.5" text-anchor="end" fill="#262626" stroke="#262626" stroke-width="0.25">0</text>
<line x1="378.1" y1="739" x2="500.75" y2="739" stroke="#1d1d1b" stroke-width="1.3"/>
<line x1="383" y1="739" x2="383" y2="743" stroke="#1d1d1b" stroke-width="1.3"/>
<text x="383" y="753.25" font-size="9.5" text-anchor="middle" fill="#262626" stroke="#262626" stroke-width="0.25">0</text>
<line x1="422.25" y1="739" x2="422.25" y2="743" stroke="#1d1d1b" stroke-width="1.3"/>
<text x="422.25" y="753.25" font-size="9.5" text-anchor="middle" fill="#262626" stroke="#262626" stroke-width="0.25">10</text>
<line x1="461.5" y1="739" x2="461.5" y2="743" stroke="#1d1d1b" stroke-width="1.3"/>
<text x="461.5" y="753.25" font-size="9.5" text-anchor="middle" fill="#262626" stroke="#262626" stroke-width="0.25">20</text>
<line x1="500.75" y1="739" x2="500.75" y2="743" stroke="#1d1d1b" stroke-width="1.3"/>
<text x="500.75" y="753.25" font-size="9.5" text-anchor="middle" fill="#262626" stroke="#262626" stroke-width="0.25">30</text>
<text x="442" y="769" font-size="9.3" text-anchor="middle" font-weight="bold" fill="#1d1d1b" stroke="#1d1d1b" stroke-width="0.25">Time (min)</text>
<text x="353.7" y="678.5" font-size="9.5" text-anchor="middle" font-weight="bold" fill="#1d1d1b" stroke="#1d1d1b" stroke-width="0.25" transform="rotate(-90 353.7 678.5)">Blood glucose (%)</text>
<polyline points="383,645.12 402.62,656.21 422.25,673.44 461.5,688.83 500.75,697.45" fill="none" stroke="#1d1d1b" stroke-width="1.25"/>
<polyline points="383,645.12 402.62,637.74 422.25,651.28 461.5,666.67 500.75,675.91" fill="none" stroke="#1d1d1b" stroke-width="1.25"/>
<line x1="402.62" y1="645.25" x2="402.62" y2="666" stroke="#1d1d1b" stroke-width="1.2"/>
<line x1="398.23" y1="645.25" x2="407.02" y2="645.25" stroke="#1d1d1b" stroke-width="1.2"/>
<line x1="398.23" y1="666" x2="407.02" y2="666" stroke="#1d1d1b" stroke-width="1.2"/>
<line x1="422.25" y1="669" x2="422.25" y2="677.75" stroke="#1d1d1b" stroke-width="1.2"/>
<line x1="417.85" y1="669" x2="426.65" y2="669" stroke="#1d1d1b" stroke-width="1.2"/>
<line x1="417.85" y1="677.75" x2="426.65" y2="677.75" stroke="#1d1d1b" stroke-width="1.2"/>
<line x1="461.5" y1="684" x2="461.5" y2="693.25" stroke="#1d1d1b" stroke-width="1.2"/>
<line x1="457.1" y1="684" x2="465.9" y2="684" stroke="#1d1d1b" stroke-width="1.2"/>
<line x1="457.1" y1="693.25" x2="465.9" y2="693.25" stroke="#1d1d1b" stroke-width="1.2"/>
<line x1="500.75" y1="694" x2="500.75" y2="701.5" stroke="#1d1d1b" stroke-width="1.2"/>
<line x1="496.35" y1="694" x2="505.15" y2="694" stroke="#1d1d1b" stroke-width="1.2"/>
<line x1="496.35" y1="701.5" x2="505.15" y2="701.5" stroke="#1d1d1b" stroke-width="1.2"/>
<line x1="402.62" y1="631" x2="402.62" y2="641.5" stroke="#1d1d1b" stroke-width="1.2"/>
<line x1="398.23" y1="631" x2="407.02" y2="631" stroke="#1d1d1b" stroke-width="1.2"/>
<line x1="398.23" y1="641.5" x2="407.02" y2="641.5" stroke="#1d1d1b" stroke-width="1.2"/>
<line x1="422.25" y1="643.5" x2="422.25" y2="657.25" stroke="#1d1d1b" stroke-width="1.2"/>
<line x1="417.85" y1="643.5" x2="426.65" y2="643.5" stroke="#1d1d1b" stroke-width="1.2"/>
<line x1="417.85" y1="657.25" x2="426.65" y2="657.25" stroke="#1d1d1b" stroke-width="1.2"/>
<line x1="461.5" y1="659.5" x2="461.5" y2="672.75" stroke="#1d1d1b" stroke-width="1.2"/>
<line x1="457.1" y1="659.5" x2="465.9" y2="659.5" stroke="#1d1d1b" stroke-width="1.2"/>
<line x1="457.1" y1="672.75" x2="465.9" y2="672.75" stroke="#1d1d1b" stroke-width="1.2"/>
<line x1="500.75" y1="669.75" x2="500.75" y2="681" stroke="#1d1d1b" stroke-width="1.2"/>
<line x1="496.35" y1="669.75" x2="505.15" y2="669.75" stroke="#1d1d1b" stroke-width="1.2"/>
<line x1="496.35" y1="681" x2="505.15" y2="681" stroke="#1d1d1b" stroke-width="1.2"/>
<circle cx="383" cy="645.12" r="3" fill="#fff" stroke="#1d1d1b" stroke-width="1.15"/>
<circle cx="402.62" cy="656.21" r="3" fill="#fff" stroke="#1d1d1b" stroke-width="1.15"/>
<circle cx="422.25" cy="673.44" r="3" fill="#fff" stroke="#1d1d1b" stroke-width="1.15"/>
<circle cx="461.5" cy="688.83" r="3" fill="#fff" stroke="#1d1d1b" stroke-width="1.15"/>
<circle cx="500.75" cy="697.45" r="3" fill="#fff" stroke="#1d1d1b" stroke-width="1.15"/>
<circle cx="402.62" cy="637.74" r="3" fill="#b1d4fc" stroke="#1d1d1b" stroke-width="1.15"/>
<circle cx="422.25" cy="651.28" r="3" fill="#b1d4fc" stroke="#1d1d1b" stroke-width="1.15"/>
<circle cx="461.5" cy="666.67" r="3" fill="#b1d4fc" stroke="#1d1d1b" stroke-width="1.15"/>
<circle cx="500.75" cy="675.91" r="3" fill="#b1d4fc" stroke="#1d1d1b" stroke-width="1.15"/>
<circle cx="383" cy="645.12" r="3" fill="#fff" stroke="#1d1d1b" stroke-width="1.15"/>
<text x="422.5" y="639.3" font-size="10.5" text-anchor="middle" font-weight="bold" fill="#1d1d1b" stroke="#1d1d1b" stroke-width="0.25">*</text>
<text x="461.75" y="655.55" font-size="10.5" text-anchor="middle" font-weight="bold" fill="#1d1d1b" stroke="#1d1d1b" stroke-width="0.25">*</text>
<text x="500.75" y="665.05" font-size="10.5" text-anchor="middle" font-weight="bold" fill="#1d1d1b" stroke="#1d1d1b" stroke-width="0.25">*</text>
<line x1="391.5" y1="715.25" x2="404.5" y2="715.25" stroke="#1d1d1b" stroke-width="1.25"/>
<circle cx="398" cy="715.25" r="3" fill="#fff" stroke="#1d1d1b" stroke-width="1.15"/>
<line x1="391.5" y1="729" x2="404.5" y2="729" stroke="#1d1d1b" stroke-width="1.25"/>
<circle cx="398" cy="729" r="3" fill="#b1d4fc" stroke="#1d1d1b" stroke-width="1.15"/>
<text x="411.5" y="718.6" font-size="9.5" fill="#1d1d1b" stroke="#1d1d1b" stroke-width="0.25">Control shRNA</text>
<text x="411.5" y="732.3" font-size="9.5" fill="#1d1d1b" stroke="#1d1d1b" stroke-width="0.25">ARSA shRNA</text>
<text x="525.86" y="598.5" font-size="14.8" fill="#1d1d1b" stroke="#1d1d1b" stroke-width="0.3">p</text>
<text x="593.6" y="611.6" font-size="14.2" text-anchor="middle" font-style="italic" fill="#1d1d1b" stroke="#1d1d1b" stroke-width="0.25">Quad</text>
<line x1="576.1" y1="737.8" x2="576.1" y2="620.7" stroke="#1d1d1b" stroke-width="1.3"/>
<line x1="571.3" y1="737.8" x2="576.1" y2="737.8" stroke="#1d1d1b" stroke-width="1.3"/>
<text x="570" y="741.07" font-size="9.2" text-anchor="end" fill="#262626" stroke="#262626" stroke-width="0.25">0</text>
<line x1="571.3" y1="714.38" x2="576.1" y2="714.38" stroke="#1d1d1b" stroke-width="1.3"/>
<text x="570" y="717.65" font-size="9.2" text-anchor="end" fill="#262626" stroke="#262626" stroke-width="0.25">20</text>
<line x1="571.3" y1="690.96" x2="576.1" y2="690.96" stroke="#1d1d1b" stroke-width="1.3"/>
<text x="570" y="694.23" font-size="9.2" text-anchor="end" fill="#262626" stroke="#262626" stroke-width="0.25">40</text>
<line x1="571.3" y1="667.54" x2="576.1" y2="667.54" stroke="#1d1d1b" stroke-width="1.3"/>
<text x="570" y="670.81" font-size="9.2" text-anchor="end" fill="#262626" stroke="#262626" stroke-width="0.25">60</text>
<line x1="571.3" y1="644.12" x2="576.1" y2="644.12" stroke="#1d1d1b" stroke-width="1.3"/>
<text x="570" y="647.39" font-size="9.2" text-anchor="end" fill="#262626" stroke="#262626" stroke-width="0.25">80</text>
<line x1="571.3" y1="620.7" x2="576.1" y2="620.7" stroke="#1d1d1b" stroke-width="1.3"/>
<text x="570" y="623.97" font-size="9.2" text-anchor="end" fill="#262626" stroke="#262626" stroke-width="0.25">100</text>
<line x1="571.3" y1="737.8" x2="659.5" y2="737.8" stroke="#1d1d1b" stroke-width="1.3"/>
<rect x="588.3" y="656.3" width="23.3" height="81.5" fill="#fff" stroke="#1d1d1b" stroke-width="1.3"/>
<rect x="624.3" y="682.7" width="23" height="55.1" fill="#b1d4fc" stroke="#1d1d1b" stroke-width="1.3"/>
<circle cx="599.8" cy="627.6" r="2.6" fill="#6a8ad2" stroke="#1d1d1b" stroke-width="1.05"/>
<circle cx="595.2" cy="633.9" r="2.6" fill="#6a8ad2" stroke="#1d1d1b" stroke-width="1.05"/>
<circle cx="604.7" cy="632.7" r="2.6" fill="#6a8ad2" stroke="#1d1d1b" stroke-width="1.05"/>
<circle cx="604.7" cy="664.7" r="2.6" fill="#6a8ad2" stroke="#1d1d1b" stroke-width="1.05"/>
<circle cx="595.2" cy="668.6" r="2.6" fill="#6a8ad2" stroke="#1d1d1b" stroke-width="1.05"/>
<circle cx="595.2" cy="682.2" r="2.6" fill="#6a8ad2" stroke="#1d1d1b" stroke-width="1.05"/>
<circle cx="604.7" cy="679.3" r="2.6" fill="#6a8ad2" stroke="#1d1d1b" stroke-width="1.05"/>
<circle cx="636.1" cy="662.5" r="2.6" fill="#6a8ad2" stroke="#1d1d1b" stroke-width="1.05"/>
<circle cx="626.3" cy="680.1" r="2.6" fill="#6a8ad2" stroke="#1d1d1b" stroke-width="1.05"/>
<circle cx="636.1" cy="678.9" r="2.6" fill="#6a8ad2" stroke="#1d1d1b" stroke-width="1.05"/>
<circle cx="645.7" cy="680.9" r="2.6" fill="#6a8ad2" stroke="#1d1d1b" stroke-width="1.05"/>
<circle cx="636.1" cy="689.9" r="2.6" fill="#6a8ad2" stroke="#1d1d1b" stroke-width="1.05"/>
<circle cx="636.1" cy="701.4" r="2.6" fill="#6a8ad2" stroke="#1d1d1b" stroke-width="1.05"/>
<line x1="599.8" y1="646.5" x2="599.8" y2="664.2" stroke="#1d1d1b" stroke-width="1.2"/>
<line x1="593.5" y1="646.5" x2="606.1" y2="646.5" stroke="#1d1d1b" stroke-width="1.2"/>
<line x1="593.5" y1="664.2" x2="606.1" y2="664.2" stroke="#1d1d1b" stroke-width="1.2"/>
<line x1="636.1" y1="676.8" x2="636.1" y2="687.1" stroke="#1d1d1b" stroke-width="1.2"/>
<line x1="630" y1="676.8" x2="642.2" y2="676.8" stroke="#1d1d1b" stroke-width="1.2"/>
<line x1="630" y1="687.1" x2="642.2" y2="687.1" stroke="#1d1d1b" stroke-width="1.2"/>
<text x="636.1" y="654.34" font-size="9" text-anchor="middle" font-weight="bold" fill="#1d1d1b" stroke="#1d1d1b" stroke-width="0.25">*</text>
<text x="599.75" y="750.25" font-size="9.3" text-anchor="middle" font-weight="bold" fill="#1d1d1b" stroke="#1d1d1b" stroke-width="0.25">Control</text>
<text x="599.75" y="761" font-size="9.3" text-anchor="middle" font-weight="bold" fill="#1d1d1b" stroke="#1d1d1b" stroke-width="0.25">shRNA</text>
<text x="636.5" y="750.25" font-size="9.3" text-anchor="middle" font-weight="bold" fill="#1d1d1b" stroke="#1d1d1b" stroke-width="0.25">ARSA</text>
<text x="636.5" y="761" font-size="9.3" text-anchor="middle" font-weight="bold" fill="#1d1d1b" stroke="#1d1d1b" stroke-width="0.25">shRNA</text>
<text x="536.35" y="679.5" font-size="9.5" text-anchor="middle" font-weight="bold" fill="#1d1d1b" stroke="#1d1d1b" stroke-width="0.25" transform="rotate(-90 536.35 679.5)">Insulin-stimulated</text>
<text x="547.29" y="678.7" font-size="9.45" text-anchor="middle" font-weight="bold" fill="#1d1d1b" stroke="#1d1d1b" stroke-width="0.25" transform="rotate(-90 547.29 678.7)">2DG uptake (DPM/mg tissue)</text>
</svg>
</body></html>
